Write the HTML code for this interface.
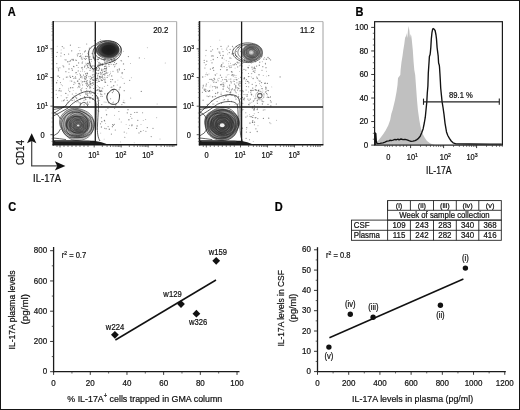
<!DOCTYPE html>
<html><head><meta charset="utf-8"><style>
html,body{margin:0;padding:0;background:#fff;overflow:hidden;width:520px;height:410px;}
svg{display:block;font-family:"Liberation Sans", sans-serif;will-change:transform;}
text{stroke:#111;stroke-width:0.22px;}
</style></head><body>
<svg width="520" height="410" viewBox="0 0 520 410">
<rect x="0" y="0" width="520" height="410" fill="#fff"/>
<g fill="#606060" fill-opacity="0.75"><circle cx="80.4" cy="98.8" r="0.65"/><circle cx="86.3" cy="58.5" r="0.62"/><circle cx="67.7" cy="97.4" r="0.44"/><circle cx="56.2" cy="94.3" r="0.49"/><circle cx="87.1" cy="73.1" r="0.65"/><circle cx="67.8" cy="61.7" r="0.70"/><circle cx="65.9" cy="71.7" r="0.58"/><circle cx="75.7" cy="78.2" r="0.66"/><circle cx="94.8" cy="92.6" r="0.70"/><circle cx="80.3" cy="104.3" r="0.62"/><circle cx="64.4" cy="54.6" r="0.59"/><circle cx="79.9" cy="47.6" r="0.47"/><circle cx="57.4" cy="75.9" r="0.51"/><circle cx="74.2" cy="100.0" r="0.59"/><circle cx="80.5" cy="75.8" r="0.68"/><circle cx="75.4" cy="59.9" r="0.49"/><circle cx="56.5" cy="56.5" r="0.52"/><circle cx="83.0" cy="57.0" r="0.41"/><circle cx="70.4" cy="45.2" r="0.61"/><circle cx="88.4" cy="54.3" r="0.53"/><circle cx="66.4" cy="97.8" r="0.64"/><circle cx="75.9" cy="95.8" r="0.47"/><circle cx="80.9" cy="89.5" r="0.60"/><circle cx="59.6" cy="77.5" r="0.60"/><circle cx="75.8" cy="97.3" r="0.54"/><circle cx="70.1" cy="80.9" r="0.46"/><circle cx="58.3" cy="68.3" r="0.52"/><circle cx="68.6" cy="54.0" r="0.62"/><circle cx="87.8" cy="67.8" r="0.46"/><circle cx="94.2" cy="80.4" r="0.43"/><circle cx="79.6" cy="83.3" r="0.54"/><circle cx="82.4" cy="54.0" r="0.47"/><circle cx="73.2" cy="59.4" r="0.64"/><circle cx="71.7" cy="50.8" r="0.65"/><circle cx="93.7" cy="57.9" r="0.68"/><circle cx="82.2" cy="63.0" r="0.65"/><circle cx="90.1" cy="84.7" r="0.59"/><circle cx="61.1" cy="95.7" r="0.46"/><circle cx="92.9" cy="99.2" r="0.65"/><circle cx="78.2" cy="53.7" r="0.62"/><circle cx="63.5" cy="100.7" r="0.62"/><circle cx="77.5" cy="55.8" r="0.61"/><circle cx="90.5" cy="83.5" r="0.65"/><circle cx="78.2" cy="67.6" r="0.49"/><circle cx="72.0" cy="59.4" r="0.60"/><circle cx="57.5" cy="97.6" r="0.56"/><circle cx="74.2" cy="77.9" r="0.50"/><circle cx="68.6" cy="90.1" r="0.50"/><circle cx="57.0" cy="67.3" r="0.45"/><circle cx="57.2" cy="52.4" r="0.55"/><circle cx="93.7" cy="84.5" r="0.51"/><circle cx="72.7" cy="76.4" r="0.53"/><circle cx="90.0" cy="65.7" r="0.66"/><circle cx="79.0" cy="86.0" r="0.60"/><circle cx="69.9" cy="76.1" r="0.60"/><circle cx="85.8" cy="99.6" r="0.70"/><circle cx="61.9" cy="101.0" r="0.47"/><circle cx="56.2" cy="90.2" r="0.55"/><circle cx="87.6" cy="53.2" r="0.43"/><circle cx="72.3" cy="93.9" r="0.52"/><circle cx="56.6" cy="82.7" r="0.69"/><circle cx="86.9" cy="75.8" r="0.43"/><circle cx="84.3" cy="58.6" r="0.63"/><circle cx="63.7" cy="66.8" r="0.66"/><circle cx="63.0" cy="65.8" r="0.55"/><circle cx="93.0" cy="79.4" r="0.64"/><circle cx="69.3" cy="61.3" r="0.53"/><circle cx="93.1" cy="71.7" r="0.51"/><circle cx="94.2" cy="75.9" r="0.55"/><circle cx="76.3" cy="98.8" r="0.46"/><circle cx="85.0" cy="79.8" r="0.49"/><circle cx="72.6" cy="97.7" r="0.49"/><circle cx="72.1" cy="100.4" r="0.70"/><circle cx="58.7" cy="70.8" r="0.50"/><circle cx="76.3" cy="102.1" r="0.47"/><circle cx="65.8" cy="93.4" r="0.68"/><circle cx="82.4" cy="88.0" r="0.44"/><circle cx="80.6" cy="103.3" r="0.69"/><circle cx="69.0" cy="68.9" r="0.66"/><circle cx="63.9" cy="48.0" r="0.59"/><circle cx="64.3" cy="99.9" r="0.53"/><circle cx="88.8" cy="51.7" r="0.46"/><circle cx="79.5" cy="73.8" r="0.43"/><circle cx="79.2" cy="84.6" r="0.43"/><circle cx="68.0" cy="102.7" r="0.50"/><circle cx="74.2" cy="82.7" r="0.52"/><circle cx="80.8" cy="56.0" r="0.68"/><circle cx="58.4" cy="69.7" r="0.56"/><circle cx="85.8" cy="93.9" r="0.70"/><circle cx="84.5" cy="51.8" r="0.62"/><circle cx="91.6" cy="93.1" r="0.44"/><circle cx="90.2" cy="76.4" r="0.57"/><circle cx="91.7" cy="47.8" r="0.45"/><circle cx="57.2" cy="46.2" r="0.41"/><circle cx="65.9" cy="59.9" r="0.68"/><circle cx="63.3" cy="79.0" r="0.50"/><circle cx="57.5" cy="80.4" r="0.46"/><circle cx="62.5" cy="85.7" r="0.43"/><circle cx="56.8" cy="63.6" r="0.60"/><circle cx="92.6" cy="77.3" r="0.54"/><circle cx="87.7" cy="84.5" r="0.40"/><circle cx="79.8" cy="56.5" r="0.61"/><circle cx="78.4" cy="47.4" r="0.48"/><circle cx="87.3" cy="102.6" r="0.63"/><circle cx="89.3" cy="48.0" r="0.55"/><circle cx="69.2" cy="64.1" r="0.56"/><circle cx="60.4" cy="82.6" r="0.54"/><circle cx="87.1" cy="63.8" r="0.60"/><circle cx="89.6" cy="92.8" r="0.70"/><circle cx="61.0" cy="91.0" r="0.64"/><circle cx="90.4" cy="56.8" r="0.42"/><circle cx="78.4" cy="83.3" r="0.55"/><circle cx="79.8" cy="50.8" r="0.47"/><circle cx="81.8" cy="82.9" r="0.43"/><circle cx="88.1" cy="93.2" r="0.46"/><circle cx="68.8" cy="88.3" r="0.47"/><circle cx="89.8" cy="98.6" r="0.69"/><circle cx="62.3" cy="46.6" r="0.62"/><circle cx="81.4" cy="57.9" r="0.66"/><circle cx="78.0" cy="101.7" r="0.61"/><circle cx="70.8" cy="60.2" r="0.49"/><circle cx="73.8" cy="84.4" r="0.52"/><circle cx="59.9" cy="67.8" r="0.53"/><circle cx="61.2" cy="84.7" r="0.49"/><circle cx="88.4" cy="67.6" r="0.53"/><circle cx="70.5" cy="77.4" r="0.63"/><circle cx="64.4" cy="59.8" r="0.42"/><circle cx="68.9" cy="72.4" r="0.48"/><circle cx="59.2" cy="90.2" r="0.54"/><circle cx="78.6" cy="63.0" r="0.60"/><circle cx="59.0" cy="90.8" r="0.59"/><circle cx="61.1" cy="53.0" r="0.62"/><circle cx="61.1" cy="49.9" r="0.43"/><circle cx="91.3" cy="61.2" r="0.45"/><circle cx="68.0" cy="95.0" r="0.49"/><circle cx="80.2" cy="56.2" r="0.48"/><circle cx="73.0" cy="98.0" r="0.63"/><circle cx="70.6" cy="87.7" r="0.70"/><circle cx="59.8" cy="88.6" r="0.60"/><circle cx="86.3" cy="94.5" r="0.41"/><circle cx="82.3" cy="67.2" r="0.49"/><circle cx="58.5" cy="76.1" r="0.64"/><circle cx="85.5" cy="56.5" r="0.68"/><circle cx="66.4" cy="77.2" r="0.58"/><circle cx="85.2" cy="98.8" r="0.50"/><circle cx="60.9" cy="56.1" r="0.51"/><circle cx="87.2" cy="83.7" r="0.59"/><circle cx="84.1" cy="104.8" r="0.66"/><circle cx="92.6" cy="95.6" r="0.50"/><circle cx="86.3" cy="68.7" r="0.46"/><circle cx="89.9" cy="78.2" r="0.40"/><circle cx="86.2" cy="82.8" r="0.44"/><circle cx="101.6" cy="90.3" r="0.66"/><circle cx="87.5" cy="73.3" r="0.59"/><circle cx="92.6" cy="83.0" r="0.70"/><circle cx="84.9" cy="65.4" r="0.42"/><circle cx="87.4" cy="95.1" r="0.51"/><circle cx="84.5" cy="78.6" r="0.64"/><circle cx="86.0" cy="83.6" r="0.60"/><circle cx="73.7" cy="78.5" r="0.42"/><circle cx="80.3" cy="95.3" r="0.52"/><circle cx="81.1" cy="90.7" r="0.59"/><circle cx="101.7" cy="77.3" r="0.61"/><circle cx="82.6" cy="84.9" r="0.54"/><circle cx="88.0" cy="67.1" r="0.46"/><circle cx="85.7" cy="79.0" r="0.69"/><circle cx="78.6" cy="86.8" r="0.54"/><circle cx="76.8" cy="65.4" r="0.62"/><circle cx="99.5" cy="68.4" r="0.56"/><circle cx="97.7" cy="104.9" r="0.42"/><circle cx="90.3" cy="90.3" r="0.47"/><circle cx="105.6" cy="79.0" r="0.42"/><circle cx="82.7" cy="61.7" r="0.46"/><circle cx="88.4" cy="104.2" r="0.46"/><circle cx="96.6" cy="67.9" r="0.52"/><circle cx="80.3" cy="74.4" r="0.50"/><circle cx="90.6" cy="78.9" r="0.51"/><circle cx="89.9" cy="86.5" r="0.65"/><circle cx="85.3" cy="81.4" r="0.41"/><circle cx="89.9" cy="80.7" r="0.43"/><circle cx="93.3" cy="82.8" r="0.64"/><circle cx="72.8" cy="87.8" r="0.56"/><circle cx="70.5" cy="60.9" r="0.53"/><circle cx="95.7" cy="92.6" r="0.48"/><circle cx="86.7" cy="56.3" r="0.56"/><circle cx="84.7" cy="71.8" r="0.47"/><circle cx="90.0" cy="70.3" r="0.66"/><circle cx="77.5" cy="81.2" r="0.65"/><circle cx="86.4" cy="64.7" r="0.50"/><circle cx="89.0" cy="64.7" r="0.41"/><circle cx="98.0" cy="97.9" r="0.67"/><circle cx="97.8" cy="74.9" r="0.49"/><circle cx="92.6" cy="80.0" r="0.60"/><circle cx="84.5" cy="76.9" r="0.66"/><circle cx="76.3" cy="60.3" r="0.64"/><circle cx="95.1" cy="79.1" r="0.66"/><circle cx="89.9" cy="97.0" r="0.55"/><circle cx="72.4" cy="70.2" r="0.65"/><circle cx="89.6" cy="87.9" r="0.54"/><circle cx="84.6" cy="97.4" r="0.48"/><circle cx="89.9" cy="63.8" r="0.54"/><circle cx="79.6" cy="94.1" r="0.50"/><circle cx="92.2" cy="53.5" r="0.63"/><circle cx="100.1" cy="91.0" r="0.65"/><circle cx="100.1" cy="76.2" r="0.44"/><circle cx="85.3" cy="65.1" r="0.45"/><circle cx="110.8" cy="79.4" r="0.52"/><circle cx="102.3" cy="72.3" r="0.54"/><circle cx="89.5" cy="56.9" r="0.69"/><circle cx="84.6" cy="96.8" r="0.68"/><circle cx="76.7" cy="98.1" r="0.69"/><circle cx="91.0" cy="66.3" r="0.62"/><circle cx="83.5" cy="75.1" r="0.60"/><circle cx="87.6" cy="74.0" r="0.48"/><circle cx="80.6" cy="77.4" r="0.51"/><circle cx="78.8" cy="62.7" r="0.40"/><circle cx="87.6" cy="95.2" r="0.65"/><circle cx="74.2" cy="82.1" r="0.48"/><circle cx="82.2" cy="67.3" r="0.42"/><circle cx="95.7" cy="74.2" r="0.49"/><circle cx="101.5" cy="70.3" r="0.50"/><circle cx="91.5" cy="78.6" r="0.62"/><circle cx="81.2" cy="90.8" r="0.40"/><circle cx="86.6" cy="91.0" r="0.47"/><circle cx="87.6" cy="65.7" r="0.67"/><circle cx="87.1" cy="82.8" r="0.66"/><circle cx="96.6" cy="68.4" r="0.59"/><circle cx="87.6" cy="56.2" r="0.57"/><circle cx="93.9" cy="65.8" r="0.47"/><circle cx="71.7" cy="81.1" r="0.66"/><circle cx="98.0" cy="59.1" r="0.63"/><circle cx="78.2" cy="70.9" r="0.55"/><circle cx="77.8" cy="87.7" r="0.45"/><circle cx="80.7" cy="71.2" r="0.46"/><circle cx="93.2" cy="70.7" r="0.51"/><circle cx="91.9" cy="67.4" r="0.50"/><circle cx="77.1" cy="54.5" r="0.42"/><circle cx="104.8" cy="77.2" r="0.52"/><circle cx="90.2" cy="81.5" r="0.53"/><circle cx="89.4" cy="82.7" r="0.49"/><circle cx="105.2" cy="66.4" r="0.52"/><circle cx="74.0" cy="66.8" r="0.50"/><circle cx="76.0" cy="93.2" r="0.51"/><circle cx="95.4" cy="67.6" r="0.59"/><circle cx="75.5" cy="76.7" r="0.55"/><circle cx="100.5" cy="39.7" r="0.46"/><circle cx="92.7" cy="65.9" r="0.64"/><circle cx="97.4" cy="65.8" r="0.55"/><circle cx="85.4" cy="59.4" r="0.54"/><circle cx="79.2" cy="102.8" r="0.61"/><circle cx="95.4" cy="76.0" r="0.63"/><circle cx="80.2" cy="53.6" r="0.65"/><circle cx="84.5" cy="81.5" r="0.64"/><circle cx="87.2" cy="80.6" r="0.60"/><circle cx="77.9" cy="81.0" r="0.62"/><circle cx="87.7" cy="101.4" r="0.45"/><circle cx="104.8" cy="79.9" r="0.61"/><circle cx="81.1" cy="81.0" r="0.48"/><circle cx="82.5" cy="70.9" r="0.48"/><circle cx="87.5" cy="66.4" r="0.44"/><circle cx="93.5" cy="80.4" r="0.52"/><circle cx="90.3" cy="79.3" r="0.41"/><circle cx="81.5" cy="67.8" r="0.60"/><circle cx="85.9" cy="73.8" r="0.62"/><circle cx="90.1" cy="81.9" r="0.63"/><circle cx="75.7" cy="83.0" r="0.44"/><circle cx="75.9" cy="72.8" r="0.59"/><circle cx="85.4" cy="50.9" r="0.65"/><circle cx="88.8" cy="84.3" r="0.41"/><circle cx="86.6" cy="75.6" r="0.46"/><circle cx="84.6" cy="67.4" r="0.48"/><circle cx="85.6" cy="73.7" r="0.54"/><circle cx="88.8" cy="63.9" r="0.45"/><circle cx="90.1" cy="84.1" r="0.56"/><circle cx="86.7" cy="75.4" r="0.50"/><circle cx="93.0" cy="57.0" r="0.60"/><circle cx="92.1" cy="85.6" r="0.56"/><circle cx="90.6" cy="87.7" r="0.61"/><circle cx="82.1" cy="78.1" r="0.47"/><circle cx="93.7" cy="88.5" r="0.61"/><circle cx="89.9" cy="59.3" r="0.62"/><circle cx="92.8" cy="99.5" r="0.62"/><circle cx="97.1" cy="85.5" r="0.42"/><circle cx="74.0" cy="96.1" r="0.68"/><circle cx="86.7" cy="44.0" r="0.57"/><circle cx="91.4" cy="59.6" r="0.48"/><circle cx="76.3" cy="72.5" r="0.53"/><circle cx="99.5" cy="76.4" r="0.56"/><circle cx="102.3" cy="80.4" r="0.56"/><circle cx="85.8" cy="63.1" r="0.47"/><circle cx="81.7" cy="88.4" r="0.48"/><circle cx="91.6" cy="83.7" r="0.51"/><circle cx="97.0" cy="70.4" r="0.63"/><circle cx="87.5" cy="93.0" r="0.53"/><circle cx="93.3" cy="98.1" r="0.41"/><circle cx="91.6" cy="77.4" r="0.54"/><circle cx="91.3" cy="67.0" r="0.46"/><circle cx="73.2" cy="90.7" r="0.40"/><circle cx="87.5" cy="86.6" r="0.69"/><circle cx="72.7" cy="76.5" r="0.49"/><circle cx="82.6" cy="69.0" r="0.56"/><circle cx="67.7" cy="77.0" r="0.51"/><circle cx="96.1" cy="87.7" r="0.42"/><circle cx="82.6" cy="81.8" r="0.67"/><circle cx="94.8" cy="40.6" r="0.68"/><circle cx="86.9" cy="90.1" r="0.46"/><circle cx="98.2" cy="86.7" r="0.53"/><circle cx="90.7" cy="93.8" r="0.51"/><circle cx="83.1" cy="81.4" r="0.45"/><circle cx="86.6" cy="81.3" r="0.60"/><circle cx="89.8" cy="102.1" r="0.63"/><circle cx="87.7" cy="104.0" r="0.63"/><circle cx="79.3" cy="79.2" r="0.60"/><circle cx="86.2" cy="93.8" r="0.41"/><circle cx="97.4" cy="59.4" r="0.47"/><circle cx="79.8" cy="87.1" r="0.55"/><circle cx="82.1" cy="59.2" r="0.61"/><circle cx="97.3" cy="89.4" r="0.52"/><circle cx="92.4" cy="74.9" r="0.53"/><circle cx="97.3" cy="78.4" r="0.65"/><circle cx="97.9" cy="68.3" r="0.41"/><circle cx="80.3" cy="85.1" r="0.48"/><circle cx="81.7" cy="92.1" r="0.49"/><circle cx="90.3" cy="68.2" r="0.70"/><circle cx="88.7" cy="76.7" r="0.47"/><circle cx="96.2" cy="72.5" r="0.41"/><circle cx="84.0" cy="100.2" r="0.52"/><circle cx="88.6" cy="85.3" r="0.59"/><circle cx="101.8" cy="80.1" r="0.45"/><circle cx="79.2" cy="83.8" r="0.65"/><circle cx="92.1" cy="69.6" r="0.46"/><circle cx="73.2" cy="60.4" r="0.61"/><circle cx="94.0" cy="70.6" r="0.45"/><circle cx="86.7" cy="85.2" r="0.66"/><circle cx="93.6" cy="77.0" r="0.46"/><circle cx="92.5" cy="68.6" r="0.62"/><circle cx="84.7" cy="66.6" r="0.65"/><circle cx="98.2" cy="81.6" r="0.48"/><circle cx="81.3" cy="76.7" r="0.43"/><circle cx="86.0" cy="92.5" r="0.58"/><circle cx="73.6" cy="66.4" r="0.55"/><circle cx="96.6" cy="80.3" r="0.54"/><circle cx="85.9" cy="76.5" r="0.63"/><circle cx="98.9" cy="89.4" r="0.54"/><circle cx="94.0" cy="74.4" r="0.55"/><circle cx="93.1" cy="92.3" r="0.55"/><circle cx="69.8" cy="91.6" r="0.54"/><circle cx="86.3" cy="88.5" r="0.52"/><circle cx="94.1" cy="76.9" r="0.45"/><circle cx="72.8" cy="87.5" r="0.49"/><circle cx="81.3" cy="77.0" r="0.48"/><circle cx="82.6" cy="76.9" r="0.47"/><circle cx="67.2" cy="100.3" r="0.63"/><circle cx="90.3" cy="98.7" r="0.43"/><circle cx="105.8" cy="82.3" r="0.46"/><circle cx="71.8" cy="68.6" r="0.56"/><circle cx="77.1" cy="74.5" r="0.49"/><circle cx="88.7" cy="52.0" r="0.47"/><circle cx="91.1" cy="59.3" r="0.51"/><circle cx="115.2" cy="81.9" r="0.55"/><circle cx="100.8" cy="64.5" r="0.60"/><circle cx="104.3" cy="60.5" r="0.69"/><circle cx="102.3" cy="64.1" r="0.66"/><circle cx="109.5" cy="74.8" r="0.53"/><circle cx="113.0" cy="71.2" r="0.54"/><circle cx="97.0" cy="73.6" r="0.52"/><circle cx="117.9" cy="70.0" r="0.47"/><circle cx="107.7" cy="93.5" r="0.69"/><circle cx="107.8" cy="99.7" r="0.42"/><circle cx="122.6" cy="72.6" r="0.46"/><circle cx="117.3" cy="69.9" r="0.60"/><circle cx="100.0" cy="78.6" r="0.58"/><circle cx="113.5" cy="102.0" r="0.48"/><circle cx="100.2" cy="91.5" r="0.68"/><circle cx="109.8" cy="64.2" r="0.52"/><circle cx="124.2" cy="90.7" r="0.58"/><circle cx="99.7" cy="100.6" r="0.43"/><circle cx="99.0" cy="62.4" r="0.67"/><circle cx="105.6" cy="102.1" r="0.43"/><circle cx="97.0" cy="101.2" r="0.52"/><circle cx="113.7" cy="61.2" r="0.67"/><circle cx="112.5" cy="79.6" r="0.68"/><circle cx="112.4" cy="92.6" r="0.67"/><circle cx="115.7" cy="104.9" r="0.65"/><circle cx="100.5" cy="96.2" r="0.47"/><circle cx="107.9" cy="94.8" r="0.41"/><circle cx="121.9" cy="104.6" r="0.54"/><circle cx="103.7" cy="79.3" r="0.42"/><circle cx="123.3" cy="102.4" r="0.69"/><circle cx="106.8" cy="102.2" r="0.40"/><circle cx="107.8" cy="75.6" r="0.50"/><circle cx="117.9" cy="80.1" r="0.46"/><circle cx="109.0" cy="76.1" r="0.40"/><circle cx="108.6" cy="64.6" r="0.55"/><circle cx="97.8" cy="93.4" r="0.42"/><circle cx="112.4" cy="89.6" r="0.67"/><circle cx="119.3" cy="68.8" r="0.61"/><circle cx="102.8" cy="71.1" r="0.51"/><circle cx="104.8" cy="93.8" r="0.65"/><circle cx="106.9" cy="73.2" r="0.64"/><circle cx="114.5" cy="66.8" r="0.50"/><circle cx="99.1" cy="90.8" r="0.65"/><circle cx="117.9" cy="71.9" r="0.68"/><circle cx="114.4" cy="59.6" r="0.59"/><circle cx="107.7" cy="85.2" r="0.51"/><circle cx="103.3" cy="74.4" r="0.67"/><circle cx="113.7" cy="85.7" r="0.68"/><circle cx="100.5" cy="91.2" r="0.50"/><circle cx="98.3" cy="103.6" r="0.43"/><circle cx="101.9" cy="69.9" r="0.66"/><circle cx="101.8" cy="104.6" r="0.60"/><circle cx="104.3" cy="86.4" r="0.47"/><circle cx="124.7" cy="102.7" r="0.57"/><circle cx="97.2" cy="82.5" r="0.49"/><circle cx="113.4" cy="91.0" r="0.68"/><circle cx="105.7" cy="73.4" r="0.50"/><circle cx="96.1" cy="59.7" r="0.46"/><circle cx="112.0" cy="61.6" r="0.41"/><circle cx="101.9" cy="73.7" r="0.50"/><circle cx="98.0" cy="59.5" r="0.70"/><circle cx="122.9" cy="78.5" r="0.47"/><circle cx="101.9" cy="91.3" r="0.54"/><circle cx="96.3" cy="69.5" r="0.69"/><circle cx="123.9" cy="100.2" r="0.40"/><circle cx="114.4" cy="62.4" r="0.49"/><circle cx="105.2" cy="59.3" r="0.65"/><circle cx="102.4" cy="59.2" r="0.43"/><circle cx="99.7" cy="87.8" r="0.68"/><circle cx="98.9" cy="65.3" r="0.65"/><circle cx="122.2" cy="73.8" r="0.44"/><circle cx="105.7" cy="62.1" r="0.58"/><circle cx="119.1" cy="89.8" r="0.57"/><circle cx="111.9" cy="87.0" r="0.61"/><circle cx="98.9" cy="70.2" r="0.49"/><circle cx="112.9" cy="102.8" r="0.52"/><circle cx="119.7" cy="88.1" r="0.47"/><circle cx="111.0" cy="58.7" r="0.49"/><circle cx="121.8" cy="61.1" r="0.45"/><circle cx="99.7" cy="90.6" r="0.67"/><circle cx="119.6" cy="95.0" r="0.67"/><circle cx="109.1" cy="66.3" r="0.51"/><circle cx="97.0" cy="98.0" r="0.61"/><circle cx="124.4" cy="69.5" r="0.55"/><circle cx="121.1" cy="76.9" r="0.48"/><circle cx="105.0" cy="81.7" r="0.50"/><circle cx="96.2" cy="78.8" r="0.69"/><circle cx="101.8" cy="91.5" r="0.50"/><circle cx="110.6" cy="98.8" r="0.57"/><circle cx="122.0" cy="72.9" r="0.68"/><circle cx="104.1" cy="102.1" r="0.49"/><circle cx="110.6" cy="62.5" r="0.64"/><circle cx="97.3" cy="104.5" r="0.43"/><circle cx="112.8" cy="60.6" r="0.62"/><circle cx="110.8" cy="81.7" r="0.64"/><circle cx="108.6" cy="102.7" r="0.65"/><circle cx="123.5" cy="63.9" r="0.69"/><circle cx="100.4" cy="77.2" r="0.61"/><circle cx="120.2" cy="87.3" r="0.69"/><circle cx="117.2" cy="85.1" r="0.48"/><circle cx="102.1" cy="96.4" r="0.56"/><circle cx="96.4" cy="90.8" r="0.46"/><circle cx="101.6" cy="80.1" r="0.43"/><circle cx="124.3" cy="83.3" r="0.53"/><circle cx="97.7" cy="78.2" r="0.62"/><circle cx="115.1" cy="60.7" r="0.63"/><circle cx="103.3" cy="58.9" r="0.41"/><circle cx="111.7" cy="75.9" r="0.68"/><circle cx="110.6" cy="71.9" r="0.47"/><circle cx="115.0" cy="66.1" r="0.49"/><circle cx="101.3" cy="80.0" r="0.65"/><circle cx="107.2" cy="77.3" r="0.67"/><circle cx="113.6" cy="64.6" r="0.62"/><circle cx="104.9" cy="69.1" r="0.50"/><circle cx="111.1" cy="87.3" r="0.54"/><circle cx="88.3" cy="63.3" r="0.65"/><circle cx="104.0" cy="79.1" r="0.51"/><circle cx="104.4" cy="71.4" r="0.64"/><circle cx="102.7" cy="77.9" r="0.63"/><circle cx="99.5" cy="81.2" r="0.54"/><circle cx="86.4" cy="77.7" r="0.67"/><circle cx="93.8" cy="80.6" r="0.52"/><circle cx="98.6" cy="64.0" r="0.62"/><circle cx="102.2" cy="63.8" r="0.59"/><circle cx="94.5" cy="57.9" r="0.50"/><circle cx="99.8" cy="76.5" r="0.56"/><circle cx="106.1" cy="70.7" r="0.58"/><circle cx="106.3" cy="72.2" r="0.56"/><circle cx="99.4" cy="77.2" r="0.43"/><circle cx="106.4" cy="68.9" r="0.70"/><circle cx="98.5" cy="70.6" r="0.69"/><circle cx="100.5" cy="63.9" r="0.41"/><circle cx="106.2" cy="68.4" r="0.68"/><circle cx="102.8" cy="64.6" r="0.56"/><circle cx="102.2" cy="75.5" r="0.44"/><circle cx="97.5" cy="90.2" r="0.65"/><circle cx="102.2" cy="88.0" r="0.53"/><circle cx="105.8" cy="66.0" r="0.61"/><circle cx="97.7" cy="75.9" r="0.65"/><circle cx="100.4" cy="72.4" r="0.56"/><circle cx="98.3" cy="55.7" r="0.41"/><circle cx="98.6" cy="52.0" r="0.65"/><circle cx="102.2" cy="65.5" r="0.61"/><circle cx="95.7" cy="70.0" r="0.67"/><circle cx="101.6" cy="59.1" r="0.48"/><circle cx="89.5" cy="62.4" r="0.64"/><circle cx="87.7" cy="63.3" r="0.66"/><circle cx="109.5" cy="62.5" r="0.51"/><circle cx="103.9" cy="59.7" r="0.52"/><circle cx="101.8" cy="69.1" r="0.50"/><circle cx="99.6" cy="77.1" r="0.40"/><circle cx="110.5" cy="73.8" r="0.47"/><circle cx="100.7" cy="63.2" r="0.50"/><circle cx="103.5" cy="69.8" r="0.43"/><circle cx="105.0" cy="71.6" r="0.63"/><circle cx="110.4" cy="54.2" r="0.53"/><circle cx="98.2" cy="79.9" r="0.57"/><circle cx="97.9" cy="64.9" r="0.49"/><circle cx="98.4" cy="59.6" r="0.51"/><circle cx="100.7" cy="94.0" r="0.63"/><circle cx="106.9" cy="62.0" r="0.54"/><circle cx="94.8" cy="68.4" r="0.58"/><circle cx="106.0" cy="64.6" r="0.53"/><circle cx="95.9" cy="80.0" r="0.57"/><circle cx="105.2" cy="68.6" r="0.67"/><circle cx="93.3" cy="58.1" r="0.48"/><circle cx="95.8" cy="51.9" r="0.56"/><circle cx="104.5" cy="66.3" r="0.61"/><circle cx="102.9" cy="88.8" r="0.43"/><circle cx="107.0" cy="61.6" r="0.69"/><circle cx="105.2" cy="82.4" r="0.55"/><circle cx="95.5" cy="63.4" r="0.47"/><circle cx="99.3" cy="57.6" r="0.63"/><circle cx="108.8" cy="50.4" r="0.64"/><circle cx="93.4" cy="69.6" r="0.59"/><circle cx="98.6" cy="73.5" r="0.67"/><circle cx="101.6" cy="70.1" r="0.43"/><circle cx="106.8" cy="52.7" r="0.56"/><circle cx="100.0" cy="65.6" r="0.62"/><circle cx="100.8" cy="74.0" r="0.68"/><circle cx="94.5" cy="66.2" r="0.59"/><circle cx="104.8" cy="75.1" r="0.58"/><circle cx="95.9" cy="90.4" r="0.52"/><circle cx="113.9" cy="58.8" r="0.57"/><circle cx="101.8" cy="94.6" r="0.57"/><circle cx="104.7" cy="74.0" r="0.67"/><circle cx="98.8" cy="67.1" r="0.65"/><circle cx="98.7" cy="67.0" r="0.62"/><circle cx="104.5" cy="68.4" r="0.68"/><circle cx="97.4" cy="61.2" r="0.42"/><circle cx="99.7" cy="64.0" r="0.63"/><circle cx="98.9" cy="81.4" r="0.54"/><circle cx="102.2" cy="76.5" r="0.63"/><circle cx="102.1" cy="72.5" r="0.49"/><circle cx="99.2" cy="69.2" r="0.54"/><circle cx="104.6" cy="62.2" r="0.65"/><circle cx="108.0" cy="72.3" r="0.41"/><circle cx="95.5" cy="67.6" r="0.49"/><circle cx="95.9" cy="73.4" r="0.55"/><circle cx="95.7" cy="82.3" r="0.66"/><circle cx="106.5" cy="50.9" r="0.48"/><circle cx="106.9" cy="52.0" r="0.65"/><circle cx="111.7" cy="64.2" r="0.47"/><circle cx="116.5" cy="54.6" r="0.49"/><circle cx="106.7" cy="67.1" r="0.57"/><circle cx="114.2" cy="60.0" r="0.60"/><circle cx="119.4" cy="69.8" r="0.66"/><circle cx="121.1" cy="60.6" r="0.66"/><circle cx="114.5" cy="62.5" r="0.48"/><circle cx="107.7" cy="55.8" r="0.62"/><circle cx="112.4" cy="56.2" r="0.59"/><circle cx="111.6" cy="60.4" r="0.52"/><circle cx="128.4" cy="56.6" r="0.63"/><circle cx="111.1" cy="59.3" r="0.67"/><circle cx="115.1" cy="64.2" r="0.54"/><circle cx="108.6" cy="56.7" r="0.67"/><circle cx="100.5" cy="56.3" r="0.44"/><circle cx="115.8" cy="60.2" r="0.45"/><circle cx="104.9" cy="58.5" r="0.63"/><circle cx="112.2" cy="62.0" r="0.49"/><circle cx="107.8" cy="59.0" r="0.58"/><circle cx="99.3" cy="55.4" r="0.55"/><circle cx="123.3" cy="51.2" r="0.44"/><circle cx="109.6" cy="60.9" r="0.63"/><circle cx="109.4" cy="56.8" r="0.62"/><circle cx="111.6" cy="60.0" r="0.44"/><circle cx="111.4" cy="52.5" r="0.48"/><circle cx="111.0" cy="56.6" r="0.64"/><circle cx="108.2" cy="60.9" r="0.67"/><circle cx="116.5" cy="63.6" r="0.66"/><circle cx="151.2" cy="136.6" r="0.55"/><circle cx="118.9" cy="111.4" r="0.51"/><circle cx="142.6" cy="112.7" r="0.53"/><circle cx="120.6" cy="141.9" r="0.45"/><circle cx="131.8" cy="125.7" r="0.55"/><circle cx="156.7" cy="117.7" r="0.47"/><circle cx="160.0" cy="139.0" r="0.45"/><circle cx="119.3" cy="119.1" r="0.51"/><circle cx="104.1" cy="139.1" r="0.42"/><circle cx="107.9" cy="108.3" r="0.54"/><circle cx="153.0" cy="128.3" r="0.61"/><circle cx="139.0" cy="132.9" r="0.60"/><circle cx="98.7" cy="111.1" r="0.69"/><circle cx="128.0" cy="109.7" r="0.67"/><circle cx="134.7" cy="112.5" r="0.59"/><circle cx="127.3" cy="112.8" r="0.67"/><circle cx="124.2" cy="132.1" r="0.53"/><circle cx="137.0" cy="112.4" r="0.64"/><circle cx="140.9" cy="131.8" r="0.49"/><circle cx="131.8" cy="118.3" r="0.56"/><circle cx="132.0" cy="125.0" r="0.69"/><circle cx="140.8" cy="131.3" r="0.58"/><circle cx="145.9" cy="131.3" r="0.55"/><circle cx="147.3" cy="127.6" r="0.64"/><circle cx="121.2" cy="122.1" r="0.49"/><circle cx="137.8" cy="120.3" r="0.65"/><circle cx="143.2" cy="120.5" r="0.41"/><circle cx="126.7" cy="133.1" r="0.47"/><circle cx="141.0" cy="124.5" r="0.45"/><circle cx="143.3" cy="130.4" r="0.48"/><circle cx="128.9" cy="119.8" r="0.68"/><circle cx="126.1" cy="124.4" r="0.41"/><circle cx="145.7" cy="119.6" r="0.49"/><circle cx="124.8" cy="137.2" r="0.57"/><circle cx="130.9" cy="114.4" r="0.61"/><circle cx="137.1" cy="126.0" r="0.63"/><circle cx="128.7" cy="128.5" r="0.51"/><circle cx="130.6" cy="116.5" r="0.47"/><circle cx="136.6" cy="128.4" r="0.66"/><circle cx="129.3" cy="125.3" r="0.44"/><circle cx="134.2" cy="142.8" r="0.42"/><circle cx="100.7" cy="133.1" r="0.47"/><circle cx="104.7" cy="121.0" r="0.55"/><circle cx="109.3" cy="129.2" r="0.68"/><circle cx="112.6" cy="124.6" r="0.62"/><circle cx="101.4" cy="117.7" r="0.57"/><circle cx="108.1" cy="126.6" r="0.56"/><circle cx="113.4" cy="125.3" r="0.61"/><circle cx="111.4" cy="134.1" r="0.59"/><circle cx="106.0" cy="110.1" r="0.50"/><circle cx="97.9" cy="110.5" r="0.43"/><circle cx="114.5" cy="115.2" r="0.46"/><circle cx="112.4" cy="126.7" r="0.63"/><circle cx="115.3" cy="130.0" r="0.59"/><circle cx="104.4" cy="120.4" r="0.64"/><circle cx="105.5" cy="123.4" r="0.41"/><circle cx="101.8" cy="121.7" r="0.67"/><circle cx="114.7" cy="108.4" r="0.51"/><circle cx="106.6" cy="114.7" r="0.68"/><circle cx="106.1" cy="128.7" r="0.58"/><circle cx="104.7" cy="128.2" r="0.56"/><circle cx="101.4" cy="127.0" r="0.65"/><circle cx="100.5" cy="123.8" r="0.59"/><circle cx="114.3" cy="124.3" r="0.60"/><circle cx="165.2" cy="63.0" r="0.45"/><circle cx="129.7" cy="80.3" r="0.58"/><circle cx="130.7" cy="98.0" r="0.51"/><circle cx="130.5" cy="63.5" r="0.42"/><circle cx="147.3" cy="47.7" r="0.44"/><circle cx="139.3" cy="57.9" r="0.54"/><circle cx="157.1" cy="104.1" r="0.48"/><circle cx="141.3" cy="91.4" r="0.63"/><circle cx="131.3" cy="77.7" r="0.44"/><circle cx="144.5" cy="58.7" r="0.40"/></g>
<path d="M93.87 124.20 L93.84 126.23 L93.54 128.27 L92.94 130.26 L92.02 132.16 L90.78 133.90 L89.27 135.46 L87.53 136.80 L85.63 137.92 L83.61 138.83 L81.48 139.54 L79.27 140.01 L77.00 140.20 L74.72 140.06 L72.51 139.58 L70.43 138.75 L68.55 137.62 L66.90 136.28 L65.45 134.80 L64.18 133.23 L63.06 131.59 L62.07 129.87 L61.25 128.07 L60.64 126.18 L60.30 124.20 L60.25 122.18 L60.50 120.14 L61.06 118.14 L61.90 116.20 L63.02 114.36 L64.42 112.66 L66.10 111.16 L68.03 109.95 L70.17 109.07 L72.44 108.57 L74.74 108.44 L77.00 108.61 L79.18 109.03 L81.26 109.62 L83.25 110.35 L85.17 111.22 L86.99 112.25 L88.69 113.48 L90.20 114.91 L91.47 116.54 L92.47 118.32 L93.19 120.22 L93.66 122.19 Z" fill="#bababa"/>
<path d="M88.91 124.70 L88.84 126.06 L88.64 127.42 L88.26 128.77 L87.66 130.06 L86.82 131.23 L85.78 132.26 L84.58 133.13 L83.28 133.85 L81.92 134.44 L80.50 134.92 L79.02 135.23 L77.50 135.34 L75.99 135.18 L74.55 134.75 L73.24 134.09 L72.08 133.27 L71.04 132.39 L70.06 131.49 L69.07 130.61 L68.05 129.68 L67.04 128.66 L66.14 127.48 L65.47 126.15 L65.12 124.70 L65.15 123.22 L65.52 121.77 L66.17 120.42 L67.03 119.18 L68.03 118.07 L69.16 117.09 L70.41 116.26 L71.76 115.63 L73.20 115.21 L74.66 115.01 L76.10 114.98 L77.50 115.06 L78.87 115.17 L80.26 115.29 L81.69 115.46 L83.16 115.74 L84.62 116.23 L85.97 116.97 L87.09 117.98 L87.93 119.20 L88.48 120.55 L88.77 121.94 L88.90 123.33 Z" fill="#7c7c7c"/>
<path d="M93.84 124.20 L93.75 126.20 L93.49 128.21 L93.00 130.22 L92.24 132.19 L91.16 134.07 L89.75 135.78 L88.04 137.26 L86.08 138.48 L83.95 139.44 L81.70 140.12 L79.37 140.53 L77.00 140.62 L74.65 140.38 L72.40 139.78 L70.32 138.84 L68.47 137.61 L66.88 136.18 L65.49 134.65 L64.26 133.07 L63.13 131.47 L62.05 129.82 L61.07 128.08 L60.25 126.20 L59.71 124.20 L59.53 122.11 L59.74 120.00 L60.35 117.94 L61.32 115.98 L62.59 114.16 L64.12 112.51 L65.90 111.06 L67.89 109.87 L70.06 108.99 L72.36 108.46 L74.69 108.28 L77.00 108.41 L79.23 108.80 L81.37 109.38 L83.43 110.10 L85.42 110.96 L87.32 111.99 L89.08 113.23 L90.63 114.70 L91.89 116.39 L92.82 118.25 L93.42 120.20 L93.74 122.20 Z" fill="none" stroke="#262626" stroke-width="0.6"/>
<path d="M94.51 124.30 L94.35 126.36 L93.82 128.37 L92.99 130.28 L91.89 132.06 L90.52 133.67 L88.89 135.03 L87.04 136.09 L85.04 136.83 L83.00 137.27 L80.98 137.50 L79.01 137.63 L77.08 137.74 L75.12 137.82 L73.09 137.81 L71.01 137.61 L68.95 137.08 L67.04 136.18 L65.39 134.91 L64.06 133.38 L63.02 131.67 L62.23 129.89 L61.60 128.07 L61.11 126.21 L60.78 124.30 L60.70 122.34 L60.95 120.38 L61.57 118.47 L62.56 116.69 L63.85 115.08 L65.35 113.65 L67.02 112.39 L68.82 111.30 L70.75 110.42 L72.80 109.81 L74.94 109.54 L77.08 109.68 L79.13 110.19 L81.01 110.98 L82.73 111.92 L84.33 112.89 L85.92 113.84 L87.55 114.79 L89.23 115.83 L90.89 117.06 L92.37 118.55 L93.52 120.30 L94.25 122.25 Z" fill="none" stroke="#262626" stroke-width="0.6"/>
<path d="M91.95 124.40 L92.00 126.17 L91.82 127.97 L91.36 129.74 L90.59 131.44 L89.49 132.99 L88.10 134.33 L86.49 135.44 L84.73 136.30 L82.88 136.94 L80.99 137.37 L79.08 137.61 L77.16 137.65 L75.26 137.48 L73.41 137.10 L71.64 136.51 L69.96 135.73 L68.38 134.79 L66.90 133.71 L65.53 132.50 L64.28 131.15 L63.21 129.65 L62.38 128.00 L61.86 126.23 L61.69 124.40 L61.89 122.57 L62.41 120.81 L63.20 119.15 L64.20 117.61 L65.36 116.18 L66.66 114.87 L68.11 113.69 L69.71 112.69 L71.45 111.89 L73.30 111.33 L75.22 111.02 L77.16 110.96 L79.09 111.12 L80.97 111.48 L82.80 112.03 L84.55 112.78 L86.18 113.72 L87.65 114.87 L88.91 116.21 L89.94 117.70 L90.73 119.29 L91.32 120.95 L91.72 122.66 Z" fill="none" stroke="#262626" stroke-width="0.6"/>
<path d="M91.71 124.50 L91.85 126.25 L91.56 127.98 L90.85 129.62 L89.82 131.10 L88.56 132.39 L87.16 133.51 L85.66 134.47 L84.09 135.27 L82.45 135.91 L80.74 136.35 L78.99 136.56 L77.24 136.54 L75.53 136.32 L73.86 135.94 L72.25 135.43 L70.68 134.82 L69.15 134.07 L67.71 133.15 L66.42 132.04 L65.35 130.73 L64.57 129.27 L64.08 127.70 L63.83 126.10 L63.77 124.50 L63.85 122.90 L64.04 121.29 L64.38 119.66 L64.94 118.05 L65.78 116.52 L66.93 115.14 L68.37 114.00 L70.02 113.15 L71.80 112.58 L73.63 112.27 L75.45 112.17 L77.24 112.25 L78.98 112.51 L80.65 112.96 L82.21 113.60 L83.66 114.41 L84.96 115.36 L86.15 116.41 L87.27 117.51 L88.35 118.68 L89.40 119.93 L90.38 121.30 L91.19 122.83 Z" fill="none" stroke="#262626" stroke-width="0.6"/>
<path d="M89.50 124.60 L89.33 126.04 L88.97 127.43 L88.45 128.79 L87.80 130.09 L87.02 131.36 L86.06 132.54 L84.92 133.60 L83.60 134.48 L82.13 135.15 L80.57 135.62 L78.96 135.92 L77.32 136.07 L75.65 136.10 L73.96 135.98 L72.27 135.66 L70.66 135.08 L69.20 134.21 L68.01 133.06 L67.13 131.70 L66.56 130.24 L66.25 128.76 L66.10 127.33 L66.03 125.95 L66.01 124.60 L66.05 123.25 L66.19 121.89 L66.50 120.53 L67.01 119.19 L67.72 117.91 L68.62 116.70 L69.69 115.57 L70.91 114.52 L72.30 113.60 L73.86 112.87 L75.55 112.39 L77.32 112.26 L79.08 112.49 L80.73 113.06 L82.21 113.88 L83.51 114.87 L84.66 115.91 L85.72 116.97 L86.71 118.05 L87.64 119.19 L88.44 120.42 L89.06 121.74 L89.42 123.15 Z" fill="none" stroke="#262626" stroke-width="0.6"/>
<path d="M87.81 124.70 L87.60 125.92 L87.32 127.11 L86.97 128.30 L86.52 129.48 L85.95 130.65 L85.20 131.78 L84.27 132.83 L83.15 133.74 L81.86 134.48 L80.45 135.03 L78.95 135.37 L77.40 135.50 L75.85 135.42 L74.33 135.12 L72.88 134.60 L71.57 133.88 L70.41 132.97 L69.43 131.93 L68.64 130.80 L68.01 129.62 L67.51 128.42 L67.13 127.20 L66.87 125.96 L66.75 124.70 L66.78 123.43 L67.00 122.17 L67.42 120.95 L68.02 119.78 L68.78 118.69 L69.67 117.68 L70.68 116.75 L71.81 115.91 L73.06 115.18 L74.42 114.59 L75.88 114.18 L77.40 114.00 L78.94 114.04 L80.46 114.32 L81.91 114.82 L83.25 115.49 L84.47 116.33 L85.54 117.31 L86.43 118.41 L87.12 119.60 L87.59 120.87 L87.84 122.16 L87.90 123.44 Z" fill="none" stroke="#262626" stroke-width="0.6"/>
<path d="M87.75 124.80 L87.93 126.05 L87.87 127.33 L87.52 128.58 L86.88 129.73 L85.98 130.73 L84.90 131.54 L83.71 132.18 L82.47 132.65 L81.22 132.99 L79.96 133.20 L78.71 133.28 L77.48 133.22 L76.29 133.03 L75.14 132.72 L74.04 132.34 L72.96 131.91 L71.87 131.43 L70.77 130.90 L69.66 130.25 L68.62 129.45 L67.72 128.47 L67.07 127.33 L66.72 126.09 L66.68 124.80 L66.91 123.54 L67.36 122.34 L67.96 121.22 L68.67 120.18 L69.48 119.23 L70.40 118.37 L71.42 117.63 L72.55 117.05 L73.76 116.64 L75.00 116.39 L76.24 116.27 L77.48 116.24 L78.71 116.30 L79.94 116.46 L81.16 116.73 L82.33 117.17 L83.42 117.77 L84.38 118.53 L85.20 119.42 L85.88 120.40 L86.46 121.42 L86.97 122.49 L87.41 123.61 Z" fill="none" stroke="#262626" stroke-width="0.6"/>
<path d="M86.17 124.90 L86.16 125.93 L86.02 126.96 L85.75 127.98 L85.32 128.97 L84.72 129.89 L83.94 130.69 L83.01 131.35 L81.98 131.85 L80.90 132.22 L79.80 132.48 L78.68 132.66 L77.56 132.78 L76.41 132.80 L75.26 132.70 L74.12 132.43 L73.07 131.97 L72.14 131.32 L71.37 130.52 L70.76 129.64 L70.29 128.71 L69.91 127.78 L69.61 126.83 L69.38 125.88 L69.25 124.90 L69.24 123.91 L69.38 122.91 L69.67 121.93 L70.10 120.99 L70.64 120.08 L71.30 119.21 L72.06 118.40 L72.96 117.66 L73.98 117.06 L75.12 116.65 L76.34 116.47 L77.56 116.54 L78.73 116.84 L79.81 117.29 L80.78 117.84 L81.68 118.42 L82.53 119.02 L83.34 119.66 L84.10 120.34 L84.79 121.11 L85.36 121.96 L85.79 122.90 L86.05 123.88 Z" fill="none" stroke="#262626" stroke-width="0.6"/>
<path d="M85.02 125.00 L85.08 125.89 L84.96 126.78 L84.70 127.66 L84.31 128.50 L83.80 129.29 L83.17 130.03 L82.43 130.67 L81.57 131.18 L80.62 131.54 L79.62 131.72 L78.62 131.74 L77.64 131.64 L76.71 131.45 L75.81 131.22 L74.92 130.96 L74.05 130.65 L73.19 130.27 L72.38 129.78 L71.67 129.16 L71.11 128.42 L70.70 127.61 L70.45 126.75 L70.33 125.87 L70.31 125.00 L70.37 124.13 L70.52 123.27 L70.78 122.42 L71.16 121.60 L71.68 120.85 L72.33 120.18 L73.07 119.59 L73.88 119.09 L74.75 118.66 L75.66 118.31 L76.63 118.05 L77.64 117.91 L78.66 117.95 L79.65 118.17 L80.57 118.58 L81.37 119.14 L82.05 119.78 L82.62 120.47 L83.14 121.17 L83.62 121.87 L84.07 122.58 L84.49 123.33 L84.82 124.14 Z" fill="none" stroke="#262626" stroke-width="0.6"/>
<path d="M83.52 125.10 L83.58 125.80 L83.59 126.53 L83.51 127.28 L83.29 128.02 L82.91 128.72 L82.37 129.33 L81.72 129.83 L80.99 130.24 L80.20 130.54 L79.39 130.75 L78.56 130.86 L77.72 130.86 L76.90 130.73 L76.13 130.48 L75.43 130.13 L74.79 129.70 L74.22 129.25 L73.67 128.78 L73.12 128.30 L72.57 127.80 L72.05 127.23 L71.61 126.59 L71.31 125.87 L71.19 125.10 L71.26 124.33 L71.51 123.59 L71.87 122.90 L72.32 122.27 L72.81 121.68 L73.35 121.13 L73.94 120.63 L74.60 120.20 L75.33 119.86 L76.11 119.63 L76.91 119.51 L77.72 119.49 L78.53 119.54 L79.33 119.66 L80.12 119.84 L80.89 120.12 L81.60 120.51 L82.22 121.01 L82.70 121.63 L83.04 122.31 L83.25 123.02 L83.37 123.72 L83.45 124.41 Z" fill="none" stroke="#262626" stroke-width="0.6"/>
<path d="M82.71 125.20 L82.75 125.79 L82.68 126.39 L82.49 126.96 L82.21 127.51 L81.86 128.03 L81.44 128.50 L80.95 128.93 L80.40 129.29 L79.79 129.56 L79.14 129.73 L78.47 129.79 L77.80 129.76 L77.15 129.66 L76.53 129.51 L75.92 129.33 L75.32 129.10 L74.76 128.80 L74.24 128.43 L73.82 127.97 L73.50 127.45 L73.30 126.89 L73.20 126.32 L73.17 125.75 L73.18 125.20 L73.21 124.65 L73.27 124.10 L73.37 123.53 L73.54 122.97 L73.81 122.42 L74.18 121.91 L74.64 121.46 L75.18 121.09 L75.78 120.78 L76.43 120.55 L77.10 120.40 L77.80 120.35 L78.49 120.42 L79.15 120.62 L79.75 120.93 L80.26 121.33 L80.69 121.78 L81.05 122.25 L81.37 122.71 L81.69 123.16 L82.01 123.62 L82.30 124.10 L82.55 124.63 Z" fill="none" stroke="#262626" stroke-width="0.6"/>
<path d="M81.54 125.30 L81.49 125.73 L81.38 126.15 L81.21 126.55 L80.98 126.93 L80.69 127.26 L80.36 127.55 L80.01 127.82 L79.64 128.06 L79.25 128.30 L78.83 128.52 L78.38 128.72 L77.88 128.87 L77.35 128.93 L76.82 128.89 L76.32 128.73 L75.86 128.47 L75.48 128.14 L75.16 127.77 L74.89 127.38 L74.68 126.98 L74.52 126.57 L74.40 126.15 L74.35 125.72 L74.35 125.30 L74.42 124.89 L74.52 124.48 L74.66 124.09 L74.83 123.70 L75.02 123.31 L75.26 122.92 L75.57 122.57 L75.95 122.26 L76.39 122.03 L76.87 121.88 L77.38 121.83 L77.88 121.85 L78.37 121.92 L78.85 122.03 L79.31 122.16 L79.77 122.33 L80.21 122.55 L80.60 122.83 L80.94 123.16 L81.21 123.56 L81.39 123.98 L81.50 124.42 L81.54 124.86 Z" fill="none" stroke="#262626" stroke-width="0.6"/>
<path d="M80.51 125.40 L80.48 125.70 L80.39 125.99 L80.26 126.27 L80.11 126.53 L79.93 126.77 L79.72 127.00 L79.48 127.20 L79.21 127.37 L78.92 127.50 L78.60 127.58 L78.28 127.63 L77.96 127.64 L77.64 127.63 L77.31 127.61 L76.98 127.55 L76.66 127.44 L76.37 127.29 L76.12 127.07 L75.93 126.81 L75.81 126.53 L75.74 126.23 L75.71 125.95 L75.69 125.67 L75.68 125.40 L75.66 125.13 L75.67 124.84 L75.71 124.56 L75.81 124.27 L75.96 124.00 L76.15 123.76 L76.39 123.55 L76.66 123.36 L76.96 123.20 L77.28 123.09 L77.61 123.01 L77.96 123.00 L78.30 123.06 L78.62 123.17 L78.90 123.34 L79.15 123.53 L79.37 123.73 L79.58 123.93 L79.79 124.12 L80.00 124.33 L80.20 124.56 L80.36 124.82 L80.47 125.10 Z" fill="none" stroke="#262626" stroke-width="0.6"/>
<path d="M79.27 125.50 L79.26 125.65 L79.23 125.79 L79.18 125.93 L79.10 126.06 L79.01 126.18 L78.91 126.29 L78.79 126.39 L78.66 126.48 L78.52 126.55 L78.36 126.60 L78.20 126.63 L78.04 126.64 L77.88 126.63 L77.71 126.60 L77.56 126.56 L77.40 126.50 L77.26 126.42 L77.13 126.33 L77.02 126.21 L76.94 126.08 L76.88 125.94 L76.85 125.79 L76.84 125.64 L76.85 125.50 L76.87 125.36 L76.90 125.22 L76.95 125.09 L77.00 124.96 L77.08 124.83 L77.17 124.71 L77.29 124.61 L77.41 124.52 L77.56 124.44 L77.71 124.38 L77.87 124.34 L78.04 124.32 L78.21 124.33 L78.38 124.36 L78.53 124.42 L78.68 124.50 L78.80 124.60 L78.91 124.71 L79.00 124.83 L79.08 124.95 L79.15 125.08 L79.21 125.22 L79.25 125.36 Z" fill="none" stroke="#262626" stroke-width="0.6"/>
<ellipse cx="78.2" cy="125.5" rx="1.3" ry="1.0" fill="#e8e8e8"/>
<path d="M53.2 114 C57 111, 62 108, 65.5 106 C70 99, 78 93, 86.7 91.3 C92 91, 97 94, 98.2 99.2 C99 105, 98 115, 97.5 125 C97 133, 98 138, 100 141" fill="none" stroke="#262626" stroke-width="0.75"/>
<path d="M53.2 116 C58 114, 64 110, 68.4 107.9 C72 103, 79 98.5, 86.7 97.3 C91 97, 95 99, 96 103 C96.5 110, 96 120, 95.8 130" fill="none" stroke="#262626" stroke-width="0.75"/>
<path d="M79.5 106.5 C81 103.5, 82.5 102.4, 83.8 102.4 C85.5 102.4, 87 104, 88 106.5" fill="none" stroke="#262626" stroke-width="0.7"/>
<path d="M53.2 111.5 L58 115 L60.5 119 M53.2 136 L58 133 L60.5 129 M53.2 138 C57 138.3, 62 139, 66 139.6 M53.2 109.5 C57 109, 61 108, 64 107" fill="none" stroke="#262626" stroke-width="0.7"/>
<path d="M119.25 98.81 L119.06 99.77 L118.78 100.75 L118.37 101.71 L117.81 102.58 L117.10 103.30 L116.28 103.84 L115.41 104.18 L114.52 104.35 L113.66 104.38 L112.82 104.32 L112.02 104.19 L111.24 103.97 L110.50 103.66 L109.82 103.24 L109.20 102.71 L108.65 102.08 L108.18 101.38 L107.78 100.62 L107.43 99.81 L107.14 98.95 L106.94 98.03 L106.86 97.06 L106.95 96.06 L107.20 95.08 L107.60 94.16 L108.13 93.32 L108.73 92.57 L109.37 91.89 L110.03 91.26 L110.73 90.67 L111.48 90.13 L112.28 89.69 L113.14 89.40 L114.01 89.29 L114.86 89.39 L115.67 89.65 L116.42 90.06 L117.09 90.58 L117.70 91.17 L118.23 91.83 L118.69 92.56 L119.05 93.36 L119.30 94.22 L119.44 95.12 L119.48 96.03 L119.45 96.95 L119.37 97.87 Z" fill="none" stroke="#1e1e1e" stroke-width="1"/>
<path d="M95.3 45 C91 46.5, 88.6 49, 88.6 53 C88.6 58, 89.5 64, 91.5 67.5 C92.5 69.2, 94.5 69.5, 96 68 C98 66, 99 65.3, 101 64.8 C106 63.5, 112 62.5, 117 59 C121 56, 122.5 51, 120.5 47 C118 42.5, 112 40.8, 105 40.8 C100 40.8, 97.5 42.5, 95.3 45 Z" fill="none" stroke="#222" stroke-width="0.75"/>
<path d="M120.92 50.40 L120.56 51.59 L120.02 52.72 L119.35 53.79 L118.60 54.83 L117.76 55.84 L116.79 56.82 L115.65 57.74 L114.31 58.55 L112.78 59.21 L111.09 59.67 L109.32 59.93 L107.50 60.00 L105.69 59.90 L103.92 59.64 L102.20 59.24 L100.56 58.70 L99.05 58.01 L97.71 57.17 L96.57 56.20 L95.65 55.13 L94.96 53.99 L94.46 52.81 L94.14 51.62 L94.00 50.40 L94.05 49.18 L94.34 47.96 L94.90 46.79 L95.74 45.71 L96.83 44.74 L98.10 43.90 L99.50 43.19 L100.97 42.59 L102.50 42.06 L104.09 41.61 L105.76 41.25 L107.50 41.01 L109.30 40.94 L111.12 41.07 L112.89 41.40 L114.57 41.94 L116.11 42.65 L117.48 43.50 L118.68 44.47 L119.67 45.54 L120.41 46.70 L120.88 47.92 L121.04 49.17 Z" fill="none" stroke="#222" stroke-width="0.7"/>
<path d="M95.3 47.5 C93 49, 92.5 52, 93 55 C93.5 58, 94.5 60, 95.3 61" fill="none" stroke="#222" stroke-width="0.6"/>
<defs><radialGradient id="g11" cx="0.55" cy="0.5" r="0.5"><stop offset="0" stop-color="#1a1a1a"/><stop offset="0.55" stop-color="#222"/><stop offset="0.8" stop-color="#4a4a4a"/><stop offset="1" stop-color="#8a8a8a"/></radialGradient></defs>
<path d="M119.53 49.90 L119.35 50.98 L118.98 52.03 L118.44 53.04 L117.75 53.99 L116.95 54.90 L116.02 55.75 L114.95 56.53 L113.73 57.22 L112.37 57.76 L110.89 58.12 L109.35 58.30 L107.80 58.30 L106.27 58.16 L104.79 57.89 L103.35 57.54 L101.96 57.10 L100.63 56.55 L99.38 55.89 L98.27 55.11 L97.34 54.20 L96.63 53.19 L96.15 52.12 L95.89 51.02 L95.84 49.90 L95.99 48.79 L96.33 47.71 L96.87 46.68 L97.61 45.71 L98.55 44.85 L99.65 44.10 L100.86 43.46 L102.15 42.93 L103.48 42.48 L104.86 42.10 L106.30 41.79 L107.80 41.57 L109.36 41.48 L110.94 41.57 L112.48 41.85 L113.93 42.34 L115.24 42.99 L116.38 43.79 L117.35 44.68 L118.15 45.65 L118.78 46.66 L119.23 47.72 L119.49 48.80 Z" fill="url(#g11)"/>
<path d="M118.93 49.90 L119.00 50.95 L118.92 52.02 L118.63 53.09 L118.10 54.13 L117.34 55.11 L116.35 55.99 L115.19 56.75 L113.88 57.40 L112.46 57.91 L110.96 58.30 L109.40 58.54 L107.80 58.62 L106.21 58.52 L104.66 58.25 L103.19 57.82 L101.85 57.24 L100.63 56.55 L99.55 55.77 L98.60 54.92 L97.80 54.01 L97.16 53.04 L96.72 52.01 L96.48 50.96 L96.44 49.90 L96.61 48.85 L96.93 47.83 L97.38 46.83 L97.95 45.85 L98.64 44.90 L99.48 43.97 L100.49 43.12 L101.68 42.36 L103.06 41.75 L104.57 41.31 L106.17 41.07 L107.80 41.02 L109.42 41.15 L110.98 41.45 L112.46 41.90 L113.81 42.49 L115.02 43.20 L116.05 44.03 L116.89 44.93 L117.55 45.89 L118.06 46.87 L118.45 47.87 L118.73 48.88 Z" fill="none" stroke="#222" stroke-width="0.5"/>
<path d="M117.99 49.90 L117.90 50.85 L117.71 51.79 L117.43 52.74 L117.01 53.68 L116.40 54.59 L115.56 55.42 L114.51 56.12 L113.27 56.64 L111.91 56.96 L110.52 57.12 L109.14 57.14 L107.80 57.07 L106.50 56.93 L105.23 56.72 L103.99 56.44 L102.81 56.05 L101.70 55.56 L100.68 54.96 L99.77 54.28 L98.96 53.53 L98.24 52.72 L97.63 51.84 L97.16 50.90 L96.89 49.90 L96.88 48.88 L97.17 47.87 L97.75 46.94 L98.55 46.10 L99.52 45.38 L100.57 44.75 L101.65 44.20 L102.77 43.69 L103.92 43.24 L105.15 42.86 L106.45 42.60 L107.80 42.49 L109.16 42.54 L110.49 42.75 L111.76 43.10 L112.96 43.55 L114.07 44.08 L115.10 44.70 L116.03 45.41 L116.80 46.20 L117.39 47.07 L117.78 48.00 L117.97 48.95 Z" fill="none" stroke="#222" stroke-width="0.5"/>
<path d="M116.86 49.90 L116.84 50.76 L116.68 51.62 L116.38 52.47 L115.92 53.29 L115.27 54.04 L114.45 54.70 L113.46 55.23 L112.37 55.61 L111.22 55.86 L110.06 56.00 L108.92 56.06 L107.80 56.06 L106.69 56.02 L105.57 55.90 L104.47 55.71 L103.40 55.41 L102.38 55.00 L101.46 54.48 L100.63 53.87 L99.92 53.18 L99.33 52.43 L98.87 51.63 L98.57 50.78 L98.45 49.90 L98.54 49.02 L98.85 48.17 L99.34 47.37 L99.99 46.64 L100.74 45.99 L101.56 45.39 L102.44 44.85 L103.37 44.36 L104.38 43.94 L105.47 43.61 L106.62 43.41 L107.80 43.36 L108.98 43.45 L110.11 43.67 L111.19 43.99 L112.20 44.40 L113.15 44.87 L114.03 45.40 L114.83 46.01 L115.52 46.68 L116.08 47.42 L116.49 48.22 L116.75 49.05 Z" fill="none" stroke="#222" stroke-width="0.5"/>
<path d="M53.2 140.3 C65 140.0, 85 140.3, 94 140.8 C99 141.5, 104 143, 109 145 L53.2 145 Z" fill="#1c1c1c"/>
<path d="M55.2 141.5 L90 141.8" stroke="#555" stroke-width="0.6"/>
<line x1="53.20" y1="21.60" x2="176.70" y2="21.60" stroke="#b5b5b5" stroke-width="1" />
<line x1="176.70" y1="21.60" x2="176.70" y2="144.80" stroke="#a0a0a0" stroke-width="1" />
<line x1="53.20" y1="21.10" x2="53.20" y2="145.40" stroke="#151515" stroke-width="1.5" />
<line x1="52.60" y1="144.80" x2="177.10" y2="144.80" stroke="#151515" stroke-width="1.5" />
<line x1="95.30" y1="21.60" x2="95.30" y2="144.80" stroke="#1a1a1a" stroke-width="1.3" />
<line x1="53.20" y1="107.10" x2="176.70" y2="107.10" stroke="#1a1a1a" stroke-width="1.5" />
<line x1="50.40" y1="48.80" x2="53.20" y2="48.80" stroke="#333" stroke-width="0.8" />
<line x1="50.40" y1="77.50" x2="53.20" y2="77.50" stroke="#333" stroke-width="0.8" />
<line x1="50.40" y1="106.20" x2="53.20" y2="106.20" stroke="#333" stroke-width="0.8" />
<line x1="51.60" y1="40.16" x2="53.20" y2="40.16" stroke="#555" stroke-width="0.6" />
<line x1="51.60" y1="35.11" x2="53.20" y2="35.11" stroke="#555" stroke-width="0.6" />
<line x1="51.60" y1="31.52" x2="53.20" y2="31.52" stroke="#555" stroke-width="0.6" />
<line x1="51.60" y1="28.74" x2="53.20" y2="28.74" stroke="#555" stroke-width="0.6" />
<line x1="51.60" y1="26.47" x2="53.20" y2="26.47" stroke="#555" stroke-width="0.6" />
<line x1="51.60" y1="24.55" x2="53.20" y2="24.55" stroke="#555" stroke-width="0.6" />
<line x1="51.60" y1="22.88" x2="53.20" y2="22.88" stroke="#555" stroke-width="0.6" />
<line x1="51.60" y1="68.86" x2="53.20" y2="68.86" stroke="#555" stroke-width="0.6" />
<line x1="51.60" y1="63.81" x2="53.20" y2="63.81" stroke="#555" stroke-width="0.6" />
<line x1="51.60" y1="60.22" x2="53.20" y2="60.22" stroke="#555" stroke-width="0.6" />
<line x1="51.60" y1="57.44" x2="53.20" y2="57.44" stroke="#555" stroke-width="0.6" />
<line x1="51.60" y1="55.17" x2="53.20" y2="55.17" stroke="#555" stroke-width="0.6" />
<line x1="51.60" y1="53.25" x2="53.20" y2="53.25" stroke="#555" stroke-width="0.6" />
<line x1="51.60" y1="51.58" x2="53.20" y2="51.58" stroke="#555" stroke-width="0.6" />
<line x1="51.60" y1="50.11" x2="53.20" y2="50.11" stroke="#555" stroke-width="0.6" />
<line x1="51.60" y1="97.56" x2="53.20" y2="97.56" stroke="#555" stroke-width="0.6" />
<line x1="51.60" y1="92.51" x2="53.20" y2="92.51" stroke="#555" stroke-width="0.6" />
<line x1="51.60" y1="88.92" x2="53.20" y2="88.92" stroke="#555" stroke-width="0.6" />
<line x1="51.60" y1="86.14" x2="53.20" y2="86.14" stroke="#555" stroke-width="0.6" />
<line x1="51.60" y1="83.87" x2="53.20" y2="83.87" stroke="#555" stroke-width="0.6" />
<line x1="51.60" y1="81.95" x2="53.20" y2="81.95" stroke="#555" stroke-width="0.6" />
<line x1="51.60" y1="80.28" x2="53.20" y2="80.28" stroke="#555" stroke-width="0.6" />
<line x1="51.60" y1="78.81" x2="53.20" y2="78.81" stroke="#555" stroke-width="0.6" />
<line x1="50.40" y1="134.70" x2="53.20" y2="134.70" stroke="#333" stroke-width="0.8" />
<line x1="51.60" y1="138.50" x2="53.20" y2="138.50" stroke="#555" stroke-width="0.6" />
<line x1="51.60" y1="141.50" x2="53.20" y2="141.50" stroke="#555" stroke-width="0.6" />
<line x1="51.60" y1="127.00" x2="53.20" y2="127.00" stroke="#555" stroke-width="0.6" />
<line x1="51.60" y1="122.00" x2="53.20" y2="122.00" stroke="#555" stroke-width="0.6" />
<line x1="51.60" y1="118.00" x2="53.20" y2="118.00" stroke="#555" stroke-width="0.6" />
<line x1="51.60" y1="113.00" x2="53.20" y2="113.00" stroke="#555" stroke-width="0.6" />
<line x1="60.00" y1="144.80" x2="60.00" y2="147.40" stroke="#333" stroke-width="0.8" />
<line x1="94.20" y1="144.80" x2="94.20" y2="147.40" stroke="#333" stroke-width="0.8" />
<line x1="121.20" y1="144.80" x2="121.20" y2="147.40" stroke="#333" stroke-width="0.8" />
<line x1="148.20" y1="144.80" x2="148.20" y2="147.40" stroke="#333" stroke-width="0.8" />
<line x1="102.33" y1="144.80" x2="102.33" y2="147.00" stroke="#444" stroke-width="0.7" />
<line x1="107.08" y1="144.80" x2="107.08" y2="147.00" stroke="#444" stroke-width="0.7" />
<line x1="110.46" y1="144.80" x2="110.46" y2="147.00" stroke="#444" stroke-width="0.7" />
<line x1="113.07" y1="144.80" x2="113.07" y2="147.00" stroke="#444" stroke-width="0.7" />
<line x1="115.21" y1="144.80" x2="115.21" y2="147.00" stroke="#444" stroke-width="0.7" />
<line x1="117.02" y1="144.80" x2="117.02" y2="147.00" stroke="#444" stroke-width="0.7" />
<line x1="118.58" y1="144.80" x2="118.58" y2="147.00" stroke="#444" stroke-width="0.7" />
<line x1="119.96" y1="144.80" x2="119.96" y2="147.00" stroke="#444" stroke-width="0.7" />
<line x1="129.33" y1="144.80" x2="129.33" y2="147.00" stroke="#444" stroke-width="0.7" />
<line x1="134.08" y1="144.80" x2="134.08" y2="147.00" stroke="#444" stroke-width="0.7" />
<line x1="137.46" y1="144.80" x2="137.46" y2="147.00" stroke="#444" stroke-width="0.7" />
<line x1="140.07" y1="144.80" x2="140.07" y2="147.00" stroke="#444" stroke-width="0.7" />
<line x1="142.21" y1="144.80" x2="142.21" y2="147.00" stroke="#444" stroke-width="0.7" />
<line x1="144.02" y1="144.80" x2="144.02" y2="147.00" stroke="#444" stroke-width="0.7" />
<line x1="145.58" y1="144.80" x2="145.58" y2="147.00" stroke="#444" stroke-width="0.7" />
<line x1="146.96" y1="144.80" x2="146.96" y2="147.00" stroke="#444" stroke-width="0.7" />
<line x1="156.33" y1="144.80" x2="156.33" y2="147.00" stroke="#444" stroke-width="0.7" />
<line x1="161.08" y1="144.80" x2="161.08" y2="147.00" stroke="#444" stroke-width="0.7" />
<line x1="164.46" y1="144.80" x2="164.46" y2="147.00" stroke="#444" stroke-width="0.7" />
<line x1="167.07" y1="144.80" x2="167.07" y2="147.00" stroke="#444" stroke-width="0.7" />
<line x1="169.21" y1="144.80" x2="169.21" y2="147.00" stroke="#444" stroke-width="0.7" />
<line x1="171.02" y1="144.80" x2="171.02" y2="147.00" stroke="#444" stroke-width="0.7" />
<line x1="172.58" y1="144.80" x2="172.58" y2="147.00" stroke="#444" stroke-width="0.7" />
<line x1="173.96" y1="144.80" x2="173.96" y2="147.00" stroke="#444" stroke-width="0.7" />
<line x1="64.00" y1="144.80" x2="64.00" y2="147.00" stroke="#444" stroke-width="0.7" />
<line x1="68.00" y1="144.80" x2="68.00" y2="147.00" stroke="#444" stroke-width="0.7" />
<line x1="72.00" y1="144.80" x2="72.00" y2="147.00" stroke="#444" stroke-width="0.7" />
<line x1="57.00" y1="144.80" x2="57.00" y2="147.00" stroke="#444" stroke-width="0.7" />
<line x1="76.00" y1="144.80" x2="76.00" y2="147.00" stroke="#444" stroke-width="0.7" />
<line x1="80.00" y1="144.80" x2="80.00" y2="147.00" stroke="#444" stroke-width="0.7" />
<line x1="84.00" y1="144.80" x2="84.00" y2="147.00" stroke="#444" stroke-width="0.7" />
<line x1="88.00" y1="144.80" x2="88.00" y2="147.00" stroke="#444" stroke-width="0.7" />
<text transform="translate(47.80,51.70) scale(0.9,1)" font-size="8.3" text-anchor="end" font-weight="normal" fill="#111">10<tspan font-size="5.8" dy="-3.2">3</tspan></text>
<text transform="translate(47.80,80.40) scale(0.9,1)" font-size="8.3" text-anchor="end" font-weight="normal" fill="#111">10<tspan font-size="5.8" dy="-3.2">2</tspan></text>
<text transform="translate(47.80,109.10) scale(0.9,1)" font-size="8.3" text-anchor="end" font-weight="normal" fill="#111">10<tspan font-size="5.8" dy="-3.2">1</tspan></text>
<text transform="translate(44.70,137.60) scale(0.9,1)" font-size="8.3" text-anchor="end" font-weight="normal" fill="#111">0</text>
<text transform="translate(60.20,157.90) scale(0.9,1)" font-size="8.3" text-anchor="middle" font-weight="normal" fill="#111">0</text>
<text transform="translate(93.80,157.70) scale(0.9,1)" font-size="8.3" text-anchor="middle" font-weight="normal" fill="#111">10<tspan font-size="5.8" dy="-3.2">1</tspan></text>
<text transform="translate(120.80,157.70) scale(0.9,1)" font-size="8.3" text-anchor="middle" font-weight="normal" fill="#111">10<tspan font-size="5.8" dy="-3.2">2</tspan></text>
<text transform="translate(147.80,157.70) scale(0.9,1)" font-size="8.3" text-anchor="middle" font-weight="normal" fill="#111">10<tspan font-size="5.8" dy="-3.2">3</tspan></text>
<g fill="#606060" fill-opacity="0.75"><circle cx="241.2" cy="63.8" r="0.64"/><circle cx="222.2" cy="57.6" r="0.55"/><circle cx="210.4" cy="69.1" r="0.67"/><circle cx="233.1" cy="47.3" r="0.41"/><circle cx="235.0" cy="104.4" r="0.47"/><circle cx="224.1" cy="66.6" r="0.67"/><circle cx="211.4" cy="56.0" r="0.55"/><circle cx="214.9" cy="96.1" r="0.45"/><circle cx="202.4" cy="92.2" r="0.57"/><circle cx="228.3" cy="46.1" r="0.62"/><circle cx="205.0" cy="89.1" r="0.58"/><circle cx="228.6" cy="63.8" r="0.41"/><circle cx="235.9" cy="57.6" r="0.41"/><circle cx="218.9" cy="51.9" r="0.52"/><circle cx="227.5" cy="50.2" r="0.40"/><circle cx="209.3" cy="91.0" r="0.43"/><circle cx="221.8" cy="84.7" r="0.59"/><circle cx="230.9" cy="81.4" r="0.53"/><circle cx="210.0" cy="86.9" r="0.43"/><circle cx="206.8" cy="61.2" r="0.66"/><circle cx="219.8" cy="51.9" r="0.51"/><circle cx="206.4" cy="84.1" r="0.66"/><circle cx="231.2" cy="67.2" r="0.58"/><circle cx="217.5" cy="57.5" r="0.59"/><circle cx="222.6" cy="79.8" r="0.53"/><circle cx="238.7" cy="47.4" r="0.60"/><circle cx="237.7" cy="104.4" r="0.47"/><circle cx="215.8" cy="88.5" r="0.48"/><circle cx="234.5" cy="84.1" r="0.66"/><circle cx="213.6" cy="82.4" r="0.46"/><circle cx="236.5" cy="51.4" r="0.52"/><circle cx="221.0" cy="46.4" r="0.62"/><circle cx="235.3" cy="91.7" r="0.50"/><circle cx="204.1" cy="89.7" r="0.51"/><circle cx="229.3" cy="52.6" r="0.67"/><circle cx="222.8" cy="86.4" r="0.46"/><circle cx="215.4" cy="75.2" r="0.47"/><circle cx="240.4" cy="83.1" r="0.67"/><circle cx="221.9" cy="49.0" r="0.48"/><circle cx="207.0" cy="96.0" r="0.50"/><circle cx="231.3" cy="95.1" r="0.66"/><circle cx="224.8" cy="79.6" r="0.50"/><circle cx="223.0" cy="89.1" r="0.70"/><circle cx="215.2" cy="74.8" r="0.65"/><circle cx="220.6" cy="84.7" r="0.65"/><circle cx="210.7" cy="46.5" r="0.47"/><circle cx="205.8" cy="55.8" r="0.47"/><circle cx="235.7" cy="88.0" r="0.63"/><circle cx="231.5" cy="71.7" r="0.65"/><circle cx="206.3" cy="72.9" r="0.47"/><circle cx="236.0" cy="75.5" r="0.46"/><circle cx="226.9" cy="67.5" r="0.47"/><circle cx="208.2" cy="82.6" r="0.44"/><circle cx="221.2" cy="65.7" r="0.53"/><circle cx="212.4" cy="86.8" r="0.55"/><circle cx="214.7" cy="79.6" r="0.59"/><circle cx="212.4" cy="90.2" r="0.42"/><circle cx="216.9" cy="73.7" r="0.46"/><circle cx="238.5" cy="88.1" r="0.44"/><circle cx="231.0" cy="65.4" r="0.48"/><circle cx="235.1" cy="68.1" r="0.46"/><circle cx="240.8" cy="98.8" r="0.68"/><circle cx="228.0" cy="94.9" r="0.51"/><circle cx="223.5" cy="89.0" r="0.44"/><circle cx="207.2" cy="104.3" r="0.60"/><circle cx="233.5" cy="53.5" r="0.69"/><circle cx="211.8" cy="79.5" r="0.64"/><circle cx="232.0" cy="53.9" r="0.59"/><circle cx="239.8" cy="65.8" r="0.51"/><circle cx="241.1" cy="90.2" r="0.52"/><circle cx="221.2" cy="66.8" r="0.49"/><circle cx="206.1" cy="50.3" r="0.64"/><circle cx="226.8" cy="91.4" r="0.64"/><circle cx="237.7" cy="66.9" r="0.55"/><circle cx="238.9" cy="62.8" r="0.66"/><circle cx="239.0" cy="100.1" r="0.60"/><circle cx="208.3" cy="96.6" r="0.61"/><circle cx="229.7" cy="87.1" r="0.48"/><circle cx="235.1" cy="77.2" r="0.47"/><circle cx="222.1" cy="67.0" r="0.47"/><circle cx="236.0" cy="99.1" r="0.67"/><circle cx="208.6" cy="91.3" r="0.64"/><circle cx="213.0" cy="56.0" r="0.67"/><circle cx="210.0" cy="79.4" r="0.65"/><circle cx="213.2" cy="59.5" r="0.64"/><circle cx="206.1" cy="64.5" r="0.53"/><circle cx="232.5" cy="46.3" r="0.63"/><circle cx="221.1" cy="81.2" r="0.45"/><circle cx="204.2" cy="62.6" r="0.60"/><circle cx="237.7" cy="104.7" r="0.41"/><circle cx="235.5" cy="55.2" r="0.69"/><circle cx="232.1" cy="72.1" r="0.66"/><circle cx="209.0" cy="73.9" r="0.45"/><circle cx="238.3" cy="97.6" r="0.63"/><circle cx="217.6" cy="48.8" r="0.65"/><circle cx="237.4" cy="104.2" r="0.41"/><circle cx="222.2" cy="58.5" r="0.57"/><circle cx="223.5" cy="86.8" r="0.53"/><circle cx="221.1" cy="66.2" r="0.59"/><circle cx="212.0" cy="62.8" r="0.67"/><circle cx="204.2" cy="60.3" r="0.62"/><circle cx="239.5" cy="45.5" r="0.46"/><circle cx="230.7" cy="92.3" r="0.57"/><circle cx="218.1" cy="80.7" r="0.57"/><circle cx="210.9" cy="85.1" r="0.40"/><circle cx="229.9" cy="89.1" r="0.44"/><circle cx="221.5" cy="103.2" r="0.51"/><circle cx="236.1" cy="79.3" r="0.45"/><circle cx="228.9" cy="61.5" r="0.47"/><circle cx="239.1" cy="83.7" r="0.60"/><circle cx="237.2" cy="62.3" r="0.69"/><circle cx="240.6" cy="51.3" r="0.54"/><circle cx="223.0" cy="51.6" r="0.59"/><circle cx="209.7" cy="90.8" r="0.63"/><circle cx="204.9" cy="68.0" r="0.60"/><circle cx="209.8" cy="96.0" r="0.60"/><circle cx="205.5" cy="65.2" r="0.40"/><circle cx="235.7" cy="86.2" r="0.66"/><circle cx="229.7" cy="104.5" r="0.45"/><circle cx="203.2" cy="84.9" r="0.45"/><circle cx="231.4" cy="89.9" r="0.55"/><circle cx="230.1" cy="49.3" r="0.58"/><circle cx="205.6" cy="91.4" r="0.63"/><circle cx="226.2" cy="60.8" r="0.49"/><circle cx="202.7" cy="77.0" r="0.68"/><circle cx="205.8" cy="89.9" r="0.59"/><circle cx="215.6" cy="93.4" r="0.65"/><circle cx="206.0" cy="74.6" r="0.54"/><circle cx="206.2" cy="91.8" r="0.42"/><circle cx="224.1" cy="59.1" r="0.40"/><circle cx="239.9" cy="85.9" r="0.59"/><circle cx="215.4" cy="96.3" r="0.53"/><circle cx="217.1" cy="101.5" r="0.53"/><circle cx="213.9" cy="104.1" r="0.50"/><circle cx="204.7" cy="89.1" r="0.45"/><circle cx="213.7" cy="70.4" r="0.54"/><circle cx="227.1" cy="47.7" r="0.48"/><circle cx="211.0" cy="51.2" r="0.67"/><circle cx="231.1" cy="58.3" r="0.45"/><circle cx="221.7" cy="64.7" r="0.69"/><circle cx="211.5" cy="101.1" r="0.66"/><circle cx="222.1" cy="84.0" r="0.52"/><circle cx="229.8" cy="94.3" r="0.63"/><circle cx="212.6" cy="49.7" r="0.57"/><circle cx="220.5" cy="55.2" r="0.54"/><circle cx="203.1" cy="100.2" r="0.64"/><circle cx="226.7" cy="69.9" r="0.65"/><circle cx="207.6" cy="90.7" r="0.46"/><circle cx="223.1" cy="55.5" r="0.67"/><circle cx="240.6" cy="102.0" r="0.41"/><circle cx="238.5" cy="94.6" r="0.40"/><circle cx="223.0" cy="63.0" r="0.55"/><circle cx="227.7" cy="54.1" r="0.49"/><circle cx="226.4" cy="49.0" r="0.53"/><circle cx="202.8" cy="87.9" r="0.54"/><circle cx="215.7" cy="86.8" r="0.54"/><circle cx="232.7" cy="95.1" r="0.67"/><circle cx="226.3" cy="95.8" r="0.68"/><circle cx="228.0" cy="100.6" r="0.50"/><circle cx="237.3" cy="47.6" r="0.49"/><circle cx="212.7" cy="68.3" r="0.60"/><circle cx="212.1" cy="55.6" r="0.46"/><circle cx="236.4" cy="46.5" r="0.52"/><circle cx="209.4" cy="90.6" r="0.62"/><circle cx="211.0" cy="60.5" r="0.40"/><circle cx="240.0" cy="90.8" r="0.63"/><circle cx="219.8" cy="53.2" r="0.62"/><circle cx="212.8" cy="103.9" r="0.52"/><circle cx="233.2" cy="49.2" r="0.47"/><circle cx="229.9" cy="67.6" r="0.56"/><circle cx="241.8" cy="81.7" r="0.49"/><circle cx="231.2" cy="82.8" r="0.65"/><circle cx="235.9" cy="95.7" r="0.58"/><circle cx="233.2" cy="76.2" r="0.49"/><circle cx="226.9" cy="81.2" r="0.64"/><circle cx="247.9" cy="99.1" r="0.58"/><circle cx="236.7" cy="79.8" r="0.44"/><circle cx="258.5" cy="90.1" r="0.52"/><circle cx="236.9" cy="82.8" r="0.55"/><circle cx="213.3" cy="67.6" r="0.68"/><circle cx="235.2" cy="90.1" r="0.50"/><circle cx="227.4" cy="69.8" r="0.53"/><circle cx="213.0" cy="80.7" r="0.69"/><circle cx="212.8" cy="96.7" r="0.53"/><circle cx="240.8" cy="77.3" r="0.65"/><circle cx="219.8" cy="40.1" r="0.43"/><circle cx="223.2" cy="82.7" r="0.52"/><circle cx="241.9" cy="93.0" r="0.46"/><circle cx="237.4" cy="87.8" r="0.67"/><circle cx="238.2" cy="103.8" r="0.57"/><circle cx="217.5" cy="79.1" r="0.47"/><circle cx="245.9" cy="94.8" r="0.43"/><circle cx="215.9" cy="87.2" r="0.53"/><circle cx="227.5" cy="86.1" r="0.43"/><circle cx="228.0" cy="91.8" r="0.55"/><circle cx="225.6" cy="96.1" r="0.62"/><circle cx="233.2" cy="81.2" r="0.49"/><circle cx="229.0" cy="79.3" r="0.45"/><circle cx="240.1" cy="81.5" r="0.51"/><circle cx="233.8" cy="79.9" r="0.45"/><circle cx="212.5" cy="96.8" r="0.65"/><circle cx="217.6" cy="93.8" r="0.43"/><circle cx="235.3" cy="63.5" r="0.62"/><circle cx="219.0" cy="78.3" r="0.50"/><circle cx="220.5" cy="69.6" r="0.62"/><circle cx="239.2" cy="81.9" r="0.63"/><circle cx="234.9" cy="79.4" r="0.44"/><circle cx="234.0" cy="75.2" r="0.63"/><circle cx="230.0" cy="92.6" r="0.68"/><circle cx="230.8" cy="79.1" r="0.57"/><circle cx="217.3" cy="87.2" r="0.59"/><circle cx="234.4" cy="81.6" r="0.50"/><circle cx="221.1" cy="92.1" r="0.45"/><circle cx="260.1" cy="81.1" r="0.62"/><circle cx="234.3" cy="89.9" r="0.65"/><circle cx="221.8" cy="103.0" r="0.46"/><circle cx="227.3" cy="74.9" r="0.43"/><circle cx="227.7" cy="87.2" r="0.51"/><circle cx="223.6" cy="84.3" r="0.59"/><circle cx="214.1" cy="82.1" r="0.51"/><circle cx="238.8" cy="88.5" r="0.69"/><circle cx="244.5" cy="98.2" r="0.64"/><circle cx="250.3" cy="99.1" r="0.67"/><circle cx="228.9" cy="88.4" r="0.58"/><circle cx="232.4" cy="88.9" r="0.63"/><circle cx="232.7" cy="74.8" r="0.69"/><circle cx="205.1" cy="76.3" r="0.41"/><circle cx="206.0" cy="85.9" r="0.57"/><circle cx="230.4" cy="63.2" r="0.46"/><circle cx="238.6" cy="96.3" r="0.64"/><circle cx="252.8" cy="69.3" r="0.47"/><circle cx="242.7" cy="90.7" r="0.62"/><circle cx="235.3" cy="97.1" r="0.50"/><circle cx="221.7" cy="77.3" r="0.60"/><circle cx="220.4" cy="75.2" r="0.60"/><circle cx="229.1" cy="66.1" r="0.67"/><circle cx="217.8" cy="92.5" r="0.66"/><circle cx="229.4" cy="90.0" r="0.53"/><circle cx="207.6" cy="74.8" r="0.61"/><circle cx="223.6" cy="85.4" r="0.45"/><circle cx="223.3" cy="97.1" r="0.43"/><circle cx="229.6" cy="85.2" r="0.61"/><circle cx="230.5" cy="94.2" r="0.67"/><circle cx="224.6" cy="99.6" r="0.62"/><circle cx="235.8" cy="87.0" r="0.56"/><circle cx="230.8" cy="91.8" r="0.59"/><circle cx="242.5" cy="97.3" r="0.62"/><circle cx="234.8" cy="96.4" r="0.57"/><circle cx="231.7" cy="101.3" r="0.51"/><circle cx="230.0" cy="58.0" r="0.66"/><circle cx="246.4" cy="86.4" r="0.51"/><circle cx="216.2" cy="82.4" r="0.67"/><circle cx="236.3" cy="64.6" r="0.64"/><circle cx="236.9" cy="79.8" r="0.64"/><circle cx="253.3" cy="71.3" r="0.65"/><circle cx="203.3" cy="85.9" r="0.70"/><circle cx="226.1" cy="79.6" r="0.70"/><circle cx="204.6" cy="90.5" r="0.55"/><circle cx="250.4" cy="60.2" r="0.51"/><circle cx="244.4" cy="77.6" r="0.62"/><circle cx="258.5" cy="90.7" r="0.69"/><circle cx="228.0" cy="99.4" r="0.59"/><circle cx="236.6" cy="77.3" r="0.41"/><circle cx="238.8" cy="78.4" r="0.41"/><circle cx="226.1" cy="77.1" r="0.54"/><circle cx="234.4" cy="64.7" r="0.64"/><circle cx="214.1" cy="78.5" r="0.67"/><circle cx="224.1" cy="85.9" r="0.51"/><circle cx="243.8" cy="78.8" r="0.56"/><circle cx="236.2" cy="92.8" r="0.55"/><circle cx="217.3" cy="88.0" r="0.43"/><circle cx="219.0" cy="98.8" r="0.40"/><circle cx="235.8" cy="85.2" r="0.56"/><circle cx="214.2" cy="86.5" r="0.55"/><circle cx="221.1" cy="94.2" r="0.66"/><circle cx="228.9" cy="74.4" r="0.45"/><circle cx="241.4" cy="94.4" r="0.66"/><circle cx="223.2" cy="100.1" r="0.48"/><circle cx="226.7" cy="81.0" r="0.56"/><circle cx="231.8" cy="75.2" r="0.61"/><circle cx="225.0" cy="82.9" r="0.44"/><circle cx="248.7" cy="104.5" r="0.68"/><circle cx="257.3" cy="78.3" r="0.69"/><circle cx="268.0" cy="57.5" r="0.69"/><circle cx="243.6" cy="62.6" r="0.40"/><circle cx="259.9" cy="94.1" r="0.59"/><circle cx="256.2" cy="85.7" r="0.60"/><circle cx="260.9" cy="56.0" r="0.66"/><circle cx="249.4" cy="104.9" r="0.46"/><circle cx="251.9" cy="102.3" r="0.44"/><circle cx="256.6" cy="66.1" r="0.64"/><circle cx="242.4" cy="65.9" r="0.48"/><circle cx="251.6" cy="77.0" r="0.42"/><circle cx="255.3" cy="82.4" r="0.43"/><circle cx="256.1" cy="56.6" r="0.59"/><circle cx="250.0" cy="103.1" r="0.56"/><circle cx="243.1" cy="91.7" r="0.62"/><circle cx="256.1" cy="90.3" r="0.64"/><circle cx="251.9" cy="73.5" r="0.40"/><circle cx="257.3" cy="100.5" r="0.68"/><circle cx="251.8" cy="59.3" r="0.66"/><circle cx="243.4" cy="99.1" r="0.68"/><circle cx="251.4" cy="61.0" r="0.63"/><circle cx="259.6" cy="97.2" r="0.52"/><circle cx="259.7" cy="62.6" r="0.47"/><circle cx="254.1" cy="68.3" r="0.67"/><circle cx="242.8" cy="103.3" r="0.53"/><circle cx="255.6" cy="61.7" r="0.55"/><circle cx="268.0" cy="104.3" r="0.61"/><circle cx="266.0" cy="67.7" r="0.61"/><circle cx="247.8" cy="81.3" r="0.61"/><circle cx="259.2" cy="98.9" r="0.59"/><circle cx="270.4" cy="100.5" r="0.55"/><circle cx="252.2" cy="84.3" r="0.63"/><circle cx="245.9" cy="80.9" r="0.52"/><circle cx="244.4" cy="60.6" r="0.48"/><circle cx="245.8" cy="70.1" r="0.67"/><circle cx="251.3" cy="90.3" r="0.65"/><circle cx="244.5" cy="60.6" r="0.62"/><circle cx="261.3" cy="88.6" r="0.45"/><circle cx="262.9" cy="91.0" r="0.41"/><circle cx="261.5" cy="82.6" r="0.68"/><circle cx="263.8" cy="59.1" r="0.68"/><circle cx="248.4" cy="92.1" r="0.48"/><circle cx="247.9" cy="81.5" r="0.59"/><circle cx="249.8" cy="76.6" r="0.41"/><circle cx="266.5" cy="88.0" r="0.52"/><circle cx="255.2" cy="68.7" r="0.61"/><circle cx="265.6" cy="87.9" r="0.51"/><circle cx="255.1" cy="98.5" r="0.64"/><circle cx="262.4" cy="104.0" r="0.67"/><circle cx="261.6" cy="100.0" r="0.44"/><circle cx="258.3" cy="90.5" r="0.61"/><circle cx="266.7" cy="59.5" r="0.51"/><circle cx="256.1" cy="85.3" r="0.45"/><circle cx="244.0" cy="94.5" r="0.50"/><circle cx="263.1" cy="101.8" r="0.54"/><circle cx="253.1" cy="78.5" r="0.67"/><circle cx="268.7" cy="75.6" r="0.63"/><circle cx="266.5" cy="76.1" r="0.40"/><circle cx="252.1" cy="68.9" r="0.42"/><circle cx="248.5" cy="76.6" r="0.70"/><circle cx="247.0" cy="96.4" r="0.57"/><circle cx="270.6" cy="59.9" r="0.58"/><circle cx="243.9" cy="55.2" r="0.51"/><circle cx="269.3" cy="58.7" r="0.65"/><circle cx="262.0" cy="70.2" r="0.57"/><circle cx="248.0" cy="67.3" r="0.58"/><circle cx="262.3" cy="55.9" r="0.47"/><circle cx="267.4" cy="83.4" r="0.63"/><circle cx="249.1" cy="65.4" r="0.46"/><circle cx="261.3" cy="86.5" r="0.44"/><circle cx="246.4" cy="79.5" r="0.58"/><circle cx="242.0" cy="72.8" r="0.65"/><circle cx="246.3" cy="61.5" r="0.49"/><circle cx="254.0" cy="60.1" r="0.49"/><circle cx="265.5" cy="64.2" r="0.44"/><circle cx="266.2" cy="59.1" r="0.58"/><circle cx="255.1" cy="58.0" r="0.63"/><circle cx="239.6" cy="71.6" r="0.44"/><circle cx="255.7" cy="57.3" r="0.56"/><circle cx="259.8" cy="62.0" r="0.56"/><circle cx="251.3" cy="73.8" r="0.43"/><circle cx="255.1" cy="52.0" r="0.56"/><circle cx="263.2" cy="75.6" r="0.48"/><circle cx="246.9" cy="59.8" r="0.46"/><circle cx="236.7" cy="56.4" r="0.70"/><circle cx="254.7" cy="66.6" r="0.43"/><circle cx="241.2" cy="64.7" r="0.50"/><circle cx="262.8" cy="66.7" r="0.59"/><circle cx="245.6" cy="83.5" r="0.52"/><circle cx="254.0" cy="70.4" r="0.41"/><circle cx="245.4" cy="54.5" r="0.66"/><circle cx="240.9" cy="65.2" r="0.47"/><circle cx="248.5" cy="73.6" r="0.52"/><circle cx="254.7" cy="72.2" r="0.67"/><circle cx="252.1" cy="59.9" r="0.69"/><circle cx="233.1" cy="64.8" r="0.67"/><circle cx="242.7" cy="63.5" r="0.52"/><circle cx="248.1" cy="57.6" r="0.62"/><circle cx="241.4" cy="69.0" r="0.65"/><circle cx="251.2" cy="63.4" r="0.46"/><circle cx="254.3" cy="67.8" r="0.69"/><circle cx="242.1" cy="70.4" r="0.43"/><circle cx="265.4" cy="63.3" r="0.60"/><circle cx="259.6" cy="83.8" r="0.47"/><circle cx="262.3" cy="61.8" r="0.46"/><circle cx="266.4" cy="71.2" r="0.44"/><circle cx="248.3" cy="67.7" r="0.68"/><circle cx="255.1" cy="70.5" r="0.44"/><circle cx="248.9" cy="82.8" r="0.67"/><circle cx="244.5" cy="59.6" r="0.45"/><circle cx="256.6" cy="77.0" r="0.50"/><circle cx="259.1" cy="59.3" r="0.46"/><circle cx="259.0" cy="74.8" r="0.70"/><circle cx="264.4" cy="57.5" r="0.43"/><circle cx="252.0" cy="67.2" r="0.66"/><circle cx="237.6" cy="62.9" r="0.49"/><circle cx="259.3" cy="65.3" r="0.69"/><circle cx="244.5" cy="78.7" r="0.63"/><circle cx="258.2" cy="79.9" r="0.48"/><circle cx="244.0" cy="69.4" r="0.55"/><circle cx="267.5" cy="90.4" r="0.45"/><circle cx="253.3" cy="100.8" r="0.52"/><circle cx="271.8" cy="86.9" r="0.41"/><circle cx="238.5" cy="84.8" r="0.60"/><circle cx="251.2" cy="94.0" r="0.58"/><circle cx="264.2" cy="94.0" r="0.48"/><circle cx="253.7" cy="96.1" r="0.40"/><circle cx="251.6" cy="94.7" r="0.68"/><circle cx="254.2" cy="113.8" r="0.44"/><circle cx="265.8" cy="89.2" r="0.50"/><circle cx="251.3" cy="91.9" r="0.41"/><circle cx="246.1" cy="89.9" r="0.51"/><circle cx="253.4" cy="101.2" r="0.52"/><circle cx="255.9" cy="89.5" r="0.56"/><circle cx="248.6" cy="86.8" r="0.50"/><circle cx="258.8" cy="93.5" r="0.47"/><circle cx="268.4" cy="90.6" r="0.64"/><circle cx="267.8" cy="96.8" r="0.48"/><circle cx="259.3" cy="80.9" r="0.50"/><circle cx="249.0" cy="100.2" r="0.55"/><circle cx="270.5" cy="96.4" r="0.48"/><circle cx="265.4" cy="92.1" r="0.62"/><circle cx="256.3" cy="90.4" r="0.43"/><circle cx="267.1" cy="97.4" r="0.50"/><circle cx="257.4" cy="92.7" r="0.53"/><circle cx="263.8" cy="97.3" r="0.48"/><circle cx="252.6" cy="107.0" r="0.65"/><circle cx="261.4" cy="95.1" r="0.51"/><circle cx="271.1" cy="102.2" r="0.53"/><circle cx="258.6" cy="98.8" r="0.54"/><circle cx="250.7" cy="90.5" r="0.65"/><circle cx="241.2" cy="103.5" r="0.47"/><circle cx="244.1" cy="99.8" r="0.65"/><circle cx="252.7" cy="88.1" r="0.68"/><circle cx="257.7" cy="96.9" r="0.48"/><circle cx="264.2" cy="107.4" r="0.45"/><circle cx="262.2" cy="101.2" r="0.64"/><circle cx="254.5" cy="100.0" r="0.49"/><circle cx="260.5" cy="91.8" r="0.47"/><circle cx="258.5" cy="94.6" r="0.42"/><circle cx="260.8" cy="97.8" r="0.58"/><circle cx="255.2" cy="89.8" r="0.68"/><circle cx="265.3" cy="83.1" r="0.66"/><circle cx="254.4" cy="105.9" r="0.58"/><circle cx="237.6" cy="90.1" r="0.53"/><circle cx="264.8" cy="83.4" r="0.69"/><circle cx="280.1" cy="76.9" r="0.60"/><circle cx="270.8" cy="105.9" r="0.69"/><circle cx="266.6" cy="93.4" r="0.61"/><circle cx="262.2" cy="88.7" r="0.61"/><circle cx="265.8" cy="87.2" r="0.61"/><circle cx="257.1" cy="102.0" r="0.44"/><circle cx="250.4" cy="92.5" r="0.48"/><circle cx="260.6" cy="85.6" r="0.42"/><circle cx="268.6" cy="97.4" r="0.68"/><circle cx="247.2" cy="94.7" r="0.70"/><circle cx="253.1" cy="90.4" r="0.58"/><circle cx="259.9" cy="90.0" r="0.45"/><circle cx="267.0" cy="90.1" r="0.44"/><circle cx="267.2" cy="94.7" r="0.53"/><circle cx="266.1" cy="91.2" r="0.52"/><circle cx="255.3" cy="86.9" r="0.46"/><circle cx="263.9" cy="101.6" r="0.43"/><circle cx="276.3" cy="104.0" r="0.59"/><circle cx="261.3" cy="93.5" r="0.64"/><circle cx="262.4" cy="94.8" r="0.42"/><circle cx="271.0" cy="101.6" r="0.49"/><circle cx="252.6" cy="90.2" r="0.49"/><circle cx="270.2" cy="97.2" r="0.56"/><circle cx="257.4" cy="103.3" r="0.58"/><circle cx="247.2" cy="116.0" r="0.52"/><circle cx="257.2" cy="109.5" r="0.66"/><circle cx="245.8" cy="112.8" r="0.52"/><circle cx="256.1" cy="117.5" r="0.49"/><circle cx="252.8" cy="120.6" r="0.63"/><circle cx="250.2" cy="132.3" r="0.65"/><circle cx="254.5" cy="122.2" r="0.66"/><circle cx="251.4" cy="116.7" r="0.45"/><circle cx="258.0" cy="125.7" r="0.46"/><circle cx="254.4" cy="124.7" r="0.54"/><circle cx="254.0" cy="109.3" r="0.69"/><circle cx="252.3" cy="108.1" r="0.59"/><circle cx="253.1" cy="115.5" r="0.59"/><circle cx="249.9" cy="116.3" r="0.50"/><circle cx="252.6" cy="122.2" r="0.70"/><circle cx="243.7" cy="109.4" r="0.45"/><circle cx="245.9" cy="117.1" r="0.57"/><circle cx="246.4" cy="132.1" r="0.60"/><circle cx="252.5" cy="122.2" r="0.64"/><circle cx="254.0" cy="110.2" r="0.64"/><circle cx="258.3" cy="112.5" r="0.52"/><circle cx="249.4" cy="123.0" r="0.48"/><circle cx="255.3" cy="117.8" r="0.69"/><circle cx="257.8" cy="118.6" r="0.57"/><circle cx="257.5" cy="108.2" r="0.48"/><circle cx="249.5" cy="114.6" r="0.44"/><circle cx="246.7" cy="127.7" r="0.64"/><circle cx="268.7" cy="118.2" r="0.65"/><circle cx="250.1" cy="123.1" r="0.57"/><circle cx="264.9" cy="109.7" r="0.52"/><circle cx="251.0" cy="116.7" r="0.60"/><circle cx="254.4" cy="108.7" r="0.69"/><circle cx="249.5" cy="139.7" r="0.57"/><circle cx="242.5" cy="109.8" r="0.64"/><circle cx="246.1" cy="138.3" r="0.66"/><circle cx="257.2" cy="131.5" r="0.63"/><circle cx="269.8" cy="122.8" r="0.55"/><circle cx="270.9" cy="123.7" r="0.45"/><circle cx="263.4" cy="118.4" r="0.61"/><circle cx="242.4" cy="128.2" r="0.65"/><circle cx="252.7" cy="117.4" r="0.69"/><circle cx="276.6" cy="120.3" r="0.45"/><circle cx="246.3" cy="129.4" r="0.43"/><circle cx="263.3" cy="110.0" r="0.59"/><circle cx="255.9" cy="128.8" r="0.65"/><circle cx="253.2" cy="141.5" r="0.42"/></g>
<path d="M239.27 124.00 L238.97 126.03 L238.47 128.01 L237.82 129.95 L237.00 131.87 L235.98 133.74 L234.68 135.51 L233.06 137.09 L231.14 138.37 L228.98 139.31 L226.68 139.88 L224.33 140.10 L222.00 140.04 L219.72 139.72 L217.52 139.17 L215.44 138.38 L213.52 137.34 L211.79 136.08 L210.29 134.63 L209.01 133.05 L207.90 131.39 L206.91 129.68 L205.99 127.90 L205.18 126.01 L204.55 124.00 L204.22 121.87 L204.32 119.70 L204.90 117.57 L205.97 115.59 L207.43 113.85 L209.19 112.37 L211.13 111.14 L213.18 110.13 L215.31 109.33 L217.50 108.75 L219.74 108.42 L222.00 108.37 L224.23 108.62 L226.39 109.13 L228.44 109.88 L230.40 110.79 L232.26 111.86 L234.02 113.08 L235.65 114.49 L237.08 116.10 L238.20 117.91 L238.94 119.88 L239.29 121.93 Z" fill="#888"/>
<path d="M234.58 124.50 L234.28 125.98 L233.79 127.40 L233.09 128.71 L232.21 129.90 L231.16 130.95 L230.01 131.84 L228.79 132.61 L227.53 133.28 L226.25 133.90 L224.91 134.47 L223.50 134.96 L222.00 135.29 L220.43 135.41 L218.85 135.27 L217.32 134.85 L215.90 134.18 L214.60 133.34 L213.43 132.36 L212.36 131.28 L211.39 130.12 L210.55 128.85 L209.88 127.48 L209.47 126.01 L209.34 124.50 L209.53 122.99 L209.99 121.55 L210.67 120.20 L211.53 118.96 L212.52 117.84 L213.64 116.84 L214.87 115.98 L216.21 115.31 L217.63 114.83 L219.09 114.55 L220.55 114.43 L222.00 114.42 L223.44 114.48 L224.90 114.58 L226.41 114.75 L227.96 115.03 L229.52 115.52 L231.00 116.25 L232.30 117.25 L233.35 118.50 L234.08 119.91 L234.51 121.43 L234.66 122.97 Z" fill="#606060"/>
<path d="M238.69 124.00 L238.44 125.96 L238.01 127.88 L237.42 129.77 L236.64 131.64 L235.66 133.47 L234.43 135.23 L232.91 136.84 L231.09 138.23 L229.03 139.33 L226.77 140.09 L224.40 140.50 L222.00 140.58 L219.62 140.36 L217.30 139.85 L215.09 139.07 L213.03 138.04 L211.16 136.76 L209.53 135.26 L208.16 133.59 L207.06 131.79 L206.22 129.91 L205.60 127.97 L205.19 126.00 L205.01 124.00 L205.07 121.99 L205.42 119.99 L206.07 118.04 L207.02 116.19 L208.26 114.47 L209.73 112.91 L211.40 111.52 L213.23 110.28 L215.22 109.21 L217.36 108.34 L219.63 107.72 L222.00 107.41 L224.41 107.45 L226.79 107.86 L229.04 108.64 L231.13 109.72 L232.99 111.06 L234.61 112.60 L235.99 114.30 L237.09 116.13 L237.92 118.04 L238.46 120.02 L238.70 122.01 Z" fill="none" stroke="#222" stroke-width="0.6"/>
<path d="M239.22 124.08 L238.76 126.07 L237.93 127.93 L236.84 129.61 L235.58 131.14 L234.24 132.53 L232.85 133.84 L231.40 135.09 L229.83 136.26 L228.11 137.30 L226.22 138.15 L224.19 138.74 L222.05 139.04 L219.87 139.05 L217.69 138.78 L215.55 138.25 L213.49 137.47 L211.56 136.43 L209.83 135.12 L208.35 133.57 L207.20 131.82 L206.40 129.94 L205.92 127.98 L205.72 126.02 L205.74 124.08 L205.94 122.16 L206.33 120.27 L206.95 118.43 L207.84 116.67 L209.03 115.06 L210.51 113.65 L212.21 112.50 L214.06 111.58 L216.00 110.88 L217.97 110.34 L219.99 109.93 L222.05 109.67 L224.16 109.59 L226.30 109.74 L228.43 110.17 L230.48 110.89 L232.40 111.89 L234.15 113.15 L235.71 114.61 L237.05 116.26 L238.12 118.07 L238.88 120.00 L239.27 122.03 Z" fill="none" stroke="#222" stroke-width="0.6"/>
<path d="M237.43 124.16 L237.00 125.93 L236.35 127.61 L235.55 129.19 L234.62 130.69 L233.57 132.11 L232.38 133.45 L231.03 134.67 L229.51 135.76 L227.84 136.68 L226.03 137.42 L224.11 137.97 L222.10 138.33 L220.02 138.46 L217.90 138.33 L215.80 137.89 L213.82 137.11 L212.04 136.00 L210.54 134.60 L209.36 132.99 L208.50 131.26 L207.90 129.47 L207.53 127.69 L207.34 125.91 L207.32 124.16 L207.49 122.42 L207.86 120.71 L208.47 119.06 L209.31 117.49 L210.36 116.02 L211.60 114.67 L213.00 113.45 L214.55 112.35 L216.25 111.40 L218.09 110.64 L220.05 110.12 L222.10 109.88 L224.17 109.95 L226.21 110.32 L228.16 110.94 L230.01 111.79 L231.73 112.82 L233.32 114.02 L234.74 115.40 L235.93 116.95 L236.83 118.65 L237.39 120.46 L237.58 122.32 Z" fill="none" stroke="#222" stroke-width="0.6"/>
<path d="M235.81 124.24 L235.52 125.83 L235.08 127.37 L234.55 128.88 L233.92 130.38 L233.16 131.87 L232.20 133.32 L230.99 134.65 L229.53 135.79 L227.84 136.65 L226.00 137.21 L224.08 137.47 L222.15 137.48 L220.25 137.27 L218.40 136.89 L216.61 136.33 L214.90 135.58 L213.33 134.63 L211.93 133.47 L210.75 132.15 L209.79 130.68 L209.06 129.14 L208.53 127.54 L208.18 125.90 L208.02 124.24 L208.08 122.57 L208.41 120.91 L209.03 119.33 L209.94 117.87 L211.08 116.56 L212.38 115.42 L213.80 114.40 L215.28 113.49 L216.83 112.65 L218.49 111.90 L220.26 111.30 L222.15 110.91 L224.10 110.83 L226.06 111.07 L227.93 111.64 L229.65 112.50 L231.20 113.58 L232.56 114.84 L233.71 116.22 L234.65 117.72 L235.34 119.30 L235.76 120.95 L235.91 122.60 Z" fill="none" stroke="#222" stroke-width="0.6"/>
<path d="M236.03 124.32 L236.02 125.96 L235.66 127.58 L234.99 129.10 L234.04 130.49 L232.89 131.73 L231.62 132.83 L230.26 133.81 L228.82 134.68 L227.29 135.41 L225.65 135.96 L223.94 136.27 L222.20 136.30 L220.49 136.04 L218.87 135.54 L217.37 134.86 L215.97 134.07 L214.66 133.19 L213.43 132.25 L212.26 131.21 L211.20 130.06 L210.29 128.78 L209.58 127.37 L209.08 125.88 L208.80 124.32 L208.74 122.72 L208.88 121.10 L209.26 119.48 L209.90 117.90 L210.84 116.45 L212.09 115.19 L213.60 114.20 L215.30 113.52 L217.08 113.14 L218.85 113.01 L220.56 113.06 L222.20 113.19 L223.79 113.40 L225.36 113.66 L226.91 114.04 L228.43 114.57 L229.89 115.27 L231.23 116.16 L232.44 117.22 L233.51 118.42 L234.43 119.75 L235.18 121.18 L235.73 122.71 Z" fill="none" stroke="#222" stroke-width="0.6"/>
<path d="M234.10 124.40 L234.37 125.84 L234.36 127.33 L234.02 128.80 L233.35 130.19 L232.40 131.43 L231.23 132.51 L229.91 133.42 L228.50 134.18 L227.01 134.79 L225.46 135.23 L223.86 135.48 L222.25 135.50 L220.66 135.30 L219.14 134.88 L217.71 134.30 L216.38 133.59 L215.13 132.79 L213.96 131.89 L212.90 130.88 L211.98 129.75 L211.27 128.51 L210.80 127.17 L210.58 125.79 L210.59 124.40 L210.75 123.03 L211.03 121.68 L211.39 120.34 L211.87 118.98 L212.49 117.64 L213.34 116.35 L214.42 115.19 L215.75 114.23 L217.27 113.53 L218.90 113.11 L220.58 112.95 L222.25 113.02 L223.87 113.28 L225.42 113.72 L226.86 114.34 L228.17 115.14 L229.32 116.08 L230.29 117.13 L231.11 118.26 L231.82 119.41 L232.46 120.58 L233.07 121.78 L233.63 123.05 Z" fill="none" stroke="#222" stroke-width="0.6"/>
<path d="M232.86 124.48 L232.80 125.73 L232.60 126.97 L232.28 128.21 L231.85 129.46 L231.27 130.70 L230.51 131.89 L229.52 132.98 L228.29 133.86 L226.88 134.47 L225.35 134.77 L223.80 134.79 L222.30 134.57 L220.88 134.20 L219.55 133.74 L218.29 133.22 L217.09 132.63 L215.94 131.96 L214.89 131.18 L213.95 130.27 L213.16 129.25 L212.51 128.14 L211.99 126.98 L211.59 125.75 L211.32 124.48 L211.22 123.16 L211.33 121.83 L211.71 120.52 L212.37 119.30 L213.28 118.22 L214.36 117.31 L215.56 116.55 L216.82 115.91 L218.11 115.35 L219.45 114.87 L220.84 114.49 L222.30 114.28 L223.79 114.29 L225.24 114.55 L226.61 115.07 L227.84 115.81 L228.92 116.68 L229.86 117.65 L230.68 118.67 L231.39 119.74 L232.00 120.85 L232.46 122.02 L232.75 123.24 Z" fill="none" stroke="#222" stroke-width="0.6"/>
<path d="M231.57 124.56 L231.59 125.66 L231.54 126.79 L231.37 127.94 L231.03 129.09 L230.48 130.20 L229.71 131.21 L228.73 132.07 L227.60 132.77 L226.36 133.30 L225.05 133.65 L223.70 133.83 L222.35 133.84 L221.02 133.67 L219.75 133.32 L218.58 132.79 L217.51 132.13 L216.57 131.37 L215.73 130.54 L214.96 129.68 L214.26 128.78 L213.62 127.83 L213.07 126.81 L212.67 125.71 L212.47 124.56 L212.49 123.39 L212.73 122.23 L213.17 121.12 L213.76 120.08 L214.48 119.10 L215.30 118.19 L216.23 117.36 L217.28 116.62 L218.44 116.02 L219.69 115.59 L221.01 115.36 L222.35 115.32 L223.68 115.46 L224.96 115.76 L226.19 116.19 L227.34 116.75 L228.40 117.44 L229.33 118.26 L230.09 119.19 L230.68 120.22 L231.08 121.29 L231.34 122.38 L231.49 123.47 Z" fill="none" stroke="#222" stroke-width="0.6"/>
<path d="M230.99 124.64 L231.01 125.66 L230.91 126.70 L230.66 127.73 L230.25 128.73 L229.66 129.67 L228.91 130.52 L228.01 131.24 L227.00 131.83 L225.91 132.29 L224.76 132.60 L223.58 132.76 L222.40 132.77 L221.24 132.60 L220.14 132.27 L219.12 131.80 L218.19 131.22 L217.36 130.57 L216.61 129.87 L215.91 129.14 L215.25 128.37 L214.64 127.54 L214.11 126.65 L213.72 125.67 L213.49 124.64 L213.45 123.58 L213.61 122.51 L213.95 121.48 L214.46 120.50 L215.12 119.59 L215.91 118.77 L216.82 118.07 L217.83 117.50 L218.93 117.08 L220.08 116.83 L221.25 116.74 L222.40 116.78 L223.52 116.94 L224.61 117.18 L225.67 117.52 L226.68 117.95 L227.63 118.48 L228.50 119.13 L229.25 119.89 L229.86 120.75 L230.32 121.67 L230.66 122.64 L230.87 123.63 Z" fill="none" stroke="#222" stroke-width="0.6"/>
<path d="M229.80 124.72 L229.71 125.58 L229.53 126.43 L229.24 127.26 L228.83 128.05 L228.32 128.79 L227.70 129.46 L227.00 130.08 L226.23 130.64 L225.39 131.14 L224.48 131.57 L223.50 131.91 L222.45 132.12 L221.37 132.16 L220.29 132.01 L219.27 131.67 L218.34 131.15 L217.55 130.49 L216.88 129.75 L216.34 128.96 L215.91 128.13 L215.58 127.29 L215.36 126.44 L215.25 125.58 L215.25 124.72 L215.34 123.87 L215.53 123.04 L215.79 122.23 L216.12 121.42 L216.54 120.62 L217.06 119.85 L217.70 119.12 L218.47 118.49 L219.36 117.99 L220.35 117.64 L221.39 117.46 L222.45 117.44 L223.49 117.56 L224.51 117.78 L225.48 118.11 L226.41 118.53 L227.26 119.06 L228.01 119.69 L228.65 120.42 L229.14 121.23 L229.48 122.09 L229.70 122.97 L229.80 123.85 Z" fill="none" stroke="#222" stroke-width="0.6"/>
<path d="M228.95 124.80 L229.04 125.58 L228.99 126.37 L228.80 127.16 L228.44 127.90 L227.94 128.57 L227.33 129.16 L226.63 129.67 L225.88 130.09 L225.09 130.44 L224.26 130.72 L223.39 130.90 L222.50 130.97 L221.61 130.91 L220.75 130.71 L219.94 130.38 L219.21 129.94 L218.56 129.43 L217.99 128.87 L217.49 128.27 L217.06 127.64 L216.71 126.97 L216.44 126.27 L216.29 125.54 L216.23 124.80 L216.26 124.06 L216.36 123.31 L216.53 122.57 L216.78 121.82 L217.13 121.07 L217.59 120.36 L218.18 119.72 L218.91 119.19 L219.75 118.81 L220.66 118.59 L221.59 118.54 L222.50 118.62 L223.37 118.81 L224.20 119.08 L224.97 119.42 L225.68 119.82 L226.33 120.29 L226.92 120.81 L227.42 121.39 L227.85 122.01 L228.21 122.66 L228.52 123.34 L228.77 124.05 Z" fill="none" stroke="#222" stroke-width="0.6"/>
<path d="M228.21 124.88 L228.12 125.54 L227.92 126.18 L227.61 126.77 L227.20 127.31 L226.72 127.77 L226.19 128.17 L225.65 128.53 L225.09 128.85 L224.51 129.15 L223.90 129.43 L223.25 129.67 L222.55 129.84 L221.82 129.90 L221.08 129.85 L220.35 129.68 L219.66 129.39 L219.04 129.02 L218.48 128.56 L217.99 128.04 L217.59 127.47 L217.28 126.85 L217.09 126.20 L217.02 125.54 L217.06 124.88 L217.20 124.24 L217.41 123.64 L217.67 123.05 L217.98 122.50 L218.34 121.96 L218.76 121.46 L219.26 121.01 L219.83 120.63 L220.47 120.34 L221.15 120.15 L221.85 120.05 L222.55 120.03 L223.25 120.06 L223.95 120.15 L224.65 120.29 L225.34 120.51 L226.00 120.82 L226.60 121.22 L227.12 121.71 L227.54 122.28 L227.86 122.89 L228.07 123.54 L228.19 124.21 Z" fill="none" stroke="#222" stroke-width="0.6"/>
<path d="M226.92 124.96 L226.83 125.46 L226.73 125.96 L226.58 126.45 L226.37 126.93 L226.08 127.37 L225.70 127.76 L225.25 128.08 L224.75 128.33 L224.23 128.51 L223.70 128.66 L223.15 128.76 L222.60 128.82 L222.04 128.82 L221.48 128.75 L220.93 128.59 L220.42 128.37 L219.95 128.08 L219.51 127.75 L219.09 127.39 L218.70 126.99 L218.34 126.55 L218.04 126.06 L217.84 125.53 L217.78 124.96 L217.88 124.40 L218.11 123.87 L218.46 123.41 L218.86 123.01 L219.29 122.66 L219.72 122.36 L220.15 122.07 L220.58 121.80 L221.05 121.57 L221.54 121.38 L222.06 121.24 L222.60 121.17 L223.16 121.14 L223.72 121.17 L224.30 121.24 L224.89 121.38 L225.45 121.60 L225.97 121.91 L226.41 122.32 L226.72 122.81 L226.91 123.35 L226.99 123.90 L226.98 124.44 Z" fill="none" stroke="#222" stroke-width="0.6"/>
<path d="M225.89 125.04 L225.84 125.42 L225.76 125.79 L225.64 126.16 L225.48 126.52 L225.27 126.86 L225.00 127.16 L224.68 127.43 L224.32 127.65 L223.93 127.83 L223.52 127.98 L223.09 128.08 L222.65 128.14 L222.20 128.14 L221.75 128.07 L221.33 127.91 L220.96 127.68 L220.65 127.39 L220.40 127.07 L220.19 126.74 L220.01 126.42 L219.83 126.09 L219.67 125.76 L219.53 125.41 L219.43 125.04 L219.39 124.65 L219.42 124.26 L219.53 123.87 L219.71 123.51 L219.94 123.16 L220.22 122.85 L220.55 122.57 L220.92 122.33 L221.33 122.15 L221.76 122.05 L222.21 122.02 L222.65 122.06 L223.07 122.15 L223.47 122.27 L223.85 122.41 L224.23 122.57 L224.60 122.74 L224.96 122.96 L225.28 123.22 L225.55 123.53 L225.74 123.88 L225.86 124.26 L225.90 124.65 Z" fill="none" stroke="#222" stroke-width="0.6"/>
<path d="M224.94 125.12 L224.89 125.38 L224.81 125.63 L224.70 125.87 L224.57 126.09 L224.40 126.30 L224.21 126.48 L223.99 126.64 L223.75 126.76 L223.50 126.86 L223.24 126.95 L222.98 127.03 L222.70 127.09 L222.41 127.13 L222.10 127.14 L221.80 127.08 L221.52 126.97 L221.27 126.80 L221.07 126.59 L220.91 126.36 L220.80 126.11 L220.71 125.87 L220.64 125.62 L220.59 125.37 L220.57 125.12 L220.58 124.87 L220.63 124.62 L220.72 124.38 L220.84 124.15 L220.99 123.94 L221.17 123.73 L221.36 123.54 L221.58 123.37 L221.84 123.23 L222.11 123.14 L222.40 123.09 L222.70 123.10 L222.99 123.15 L223.26 123.23 L223.52 123.34 L223.77 123.45 L224.01 123.58 L224.25 123.72 L224.47 123.89 L224.67 124.09 L224.82 124.33 L224.91 124.58 L224.95 124.85 Z" fill="none" stroke="#222" stroke-width="0.6"/>
<path d="M223.85 125.20 L223.83 125.33 L223.79 125.45 L223.73 125.57 L223.66 125.67 L223.57 125.77 L223.48 125.86 L223.38 125.94 L223.28 126.03 L223.17 126.11 L223.04 126.18 L222.90 126.23 L222.75 126.26 L222.60 126.25 L222.45 126.22 L222.31 126.16 L222.19 126.08 L222.07 126.00 L221.97 125.90 L221.88 125.80 L221.81 125.69 L221.75 125.58 L221.71 125.45 L221.69 125.33 L221.68 125.20 L221.69 125.07 L221.72 124.95 L221.75 124.83 L221.80 124.71 L221.87 124.59 L221.96 124.48 L222.07 124.39 L222.19 124.33 L222.33 124.28 L222.47 124.25 L222.61 124.24 L222.75 124.23 L222.89 124.24 L223.03 124.25 L223.18 124.27 L223.32 124.32 L223.45 124.38 L223.56 124.47 L223.66 124.57 L223.73 124.69 L223.79 124.81 L223.82 124.94 L223.84 125.07 Z" fill="none" stroke="#222" stroke-width="0.6"/>
<ellipse cx="222.2" cy="125.2" rx="2.4" ry="2.0" fill="#f2f2f2"/>
<path d="M199.5 113 C203.0 110, 206.0 107, 208.0 105 C212.0 100, 218.0 96.5, 226.0 95 C232.0 94, 237.0 95, 239.0 99 C240.5 103, 240.0 115, 240.0 125 C240.0 133, 241.0 139, 243.0 142" fill="none" stroke="#262626" stroke-width="0.75"/>
<path d="M199.5 116 C205.0 113, 211.0 109, 214.0 106.7 C218.0 103, 224.0 101.5, 229.0 101.5 C234.0 101.5, 237.0 103, 237.5 106 C238.10000000000002 110, 238.3 118, 238.3 126" fill="none" stroke="#262626" stroke-width="0.75"/>
<path d="M199.5 111.5 L204.3 115 L206.8 119 M199.5 136 L204.3 133 L206.8 129 M199.5 138 C203.3 138.3, 208.3 139, 212.3 139.6 M199.5 109.5 C203.3 109, 207.3 108, 210.3 107" fill="none" stroke="#262626" stroke-width="0.7"/>
<circle cx="259.8" cy="95.7" r="2.3" fill="none" stroke="#333" stroke-width="0.8"/>
<circle cx="259.8" cy="95.7" r="4.2" fill="none" stroke="#999" stroke-width="0.5"/>
<path d="M262.43 52.70 L262.34 53.95 L262.06 55.20 L261.58 56.43 L260.87 57.63 L259.89 58.76 L258.64 59.78 L257.15 60.66 L255.47 61.38 L253.65 61.93 L251.74 62.31 L249.78 62.52 L247.80 62.57 L245.83 62.45 L243.92 62.16 L242.10 61.69 L240.41 61.07 L238.86 60.31 L237.47 59.45 L236.22 58.51 L235.11 57.49 L234.14 56.40 L233.36 55.23 L232.82 53.99 L232.57 52.70 L232.65 51.40 L233.05 50.12 L233.76 48.90 L234.72 47.77 L235.89 46.73 L237.22 45.79 L238.69 44.95 L240.31 44.22 L242.05 43.63 L243.91 43.21 L245.84 42.95 L247.80 42.88 L249.76 42.99 L251.68 43.25 L253.54 43.65 L255.31 44.20 L256.97 44.89 L258.47 45.73 L259.76 46.70 L260.80 47.79 L261.57 48.97 L262.08 50.20 L262.36 51.45 Z" fill="none" stroke="#222" stroke-width="0.7"/>
<path d="M261.77 52.70 L261.62 53.84 L261.28 54.96 L260.71 56.05 L259.94 57.06 L258.96 58.00 L257.81 58.84 L256.52 59.58 L255.12 60.22 L253.61 60.77 L252.02 61.20 L250.33 61.49 L248.60 61.60 L246.86 61.53 L245.16 61.26 L243.55 60.83 L242.06 60.25 L240.69 59.57 L239.43 58.81 L238.28 57.98 L237.24 57.07 L236.35 56.08 L235.66 55.01 L235.23 53.87 L235.09 52.70 L235.23 51.53 L235.63 50.38 L236.26 49.29 L237.09 48.27 L238.10 47.33 L239.27 46.48 L240.60 45.75 L242.07 45.16 L243.64 44.71 L245.27 44.41 L246.93 44.25 L248.60 44.19 L250.27 44.23 L251.95 44.36 L253.63 44.61 L255.27 45.00 L256.83 45.55 L258.23 46.28 L259.42 47.16 L260.36 48.17 L261.05 49.26 L261.49 50.40 L261.73 51.55 Z" fill="none" stroke="#222" stroke-width="0.6"/>
<path d="M260.56 52.70 L260.51 53.71 L260.32 54.72 L259.95 55.71 L259.39 56.68 L258.62 57.58 L257.68 58.41 L256.57 59.15 L255.34 59.79 L253.98 60.33 L252.52 60.74 L250.98 60.99 L249.40 61.06 L247.83 60.93 L246.33 60.61 L244.94 60.13 L243.69 59.53 L242.56 58.85 L241.54 58.12 L240.61 57.35 L239.76 56.54 L239.02 55.66 L238.43 54.73 L238.03 53.73 L237.86 52.70 L237.91 51.66 L238.18 50.63 L238.64 49.63 L239.27 48.67 L240.07 47.76 L241.04 46.94 L242.18 46.21 L243.47 45.62 L244.88 45.18 L246.36 44.89 L247.88 44.74 L249.40 44.72 L250.91 44.79 L252.40 44.97 L253.87 45.27 L255.27 45.69 L256.57 46.25 L257.72 46.96 L258.67 47.80 L259.40 48.72 L259.92 49.69 L260.27 50.69 L260.47 51.69 Z" fill="none" stroke="#222" stroke-width="0.6"/>
<defs><radialGradient id="g12" cx="0.5" cy="0.5" r="0.5"><stop offset="0" stop-color="#e0e0e0"/><stop offset="0.25" stop-color="#aaa"/><stop offset="0.55" stop-color="#888"/><stop offset="0.85" stop-color="#999"/><stop offset="1" stop-color="#bbb"/></radialGradient></defs>
<ellipse cx="251.3" cy="52.5" rx="9.6" ry="8.2" fill="url(#g12)"/>
<path d="M260.95 52.50 L260.81 53.57 L260.52 54.61 L260.11 55.62 L259.57 56.58 L258.90 57.48 L258.08 58.29 L257.13 58.99 L256.07 59.56 L254.93 59.98 L253.73 60.25 L252.52 60.41 L251.30 60.45 L250.08 60.41 L248.87 60.26 L247.66 60.00 L246.49 59.62 L245.38 59.09 L244.37 58.42 L243.49 57.62 L242.75 56.72 L242.17 55.73 L241.75 54.69 L241.51 53.60 L241.44 52.50 L241.57 51.41 L241.90 50.35 L242.41 49.35 L243.08 48.45 L243.88 47.64 L244.76 46.91 L245.70 46.27 L246.70 45.70 L247.76 45.19 L248.88 44.78 L250.06 44.47 L251.30 44.31 L252.56 44.31 L253.81 44.49 L255.02 44.82 L256.17 45.30 L257.23 45.90 L258.20 46.61 L259.06 47.42 L259.78 48.32 L260.34 49.30 L260.72 50.34 L260.92 51.42 Z" fill="none" stroke="#222" stroke-width="0.5"/>
<path d="M259.46 52.50 L259.42 53.41 L259.28 54.31 L259.04 55.22 L258.68 56.11 L258.16 56.96 L257.47 57.73 L256.64 58.40 L255.68 58.93 L254.64 59.33 L253.54 59.59 L252.42 59.73 L251.30 59.76 L250.18 59.68 L249.09 59.49 L248.03 59.18 L247.04 58.75 L246.13 58.20 L245.33 57.56 L244.63 56.83 L244.04 56.05 L243.56 55.22 L243.19 54.34 L242.95 53.43 L242.85 52.50 L242.92 51.57 L243.16 50.65 L243.54 49.78 L244.06 48.96 L244.69 48.20 L245.40 47.50 L246.18 46.85 L247.05 46.26 L248.00 45.76 L249.04 45.37 L250.15 45.12 L251.30 45.03 L252.45 45.10 L253.57 45.34 L254.62 45.71 L255.60 46.19 L256.50 46.76 L257.29 47.42 L257.98 48.16 L258.53 48.96 L258.96 49.81 L259.24 50.70 L259.40 51.60 Z" fill="none" stroke="#222" stroke-width="0.5"/>
<path d="M258.86 52.50 L258.68 53.33 L258.39 54.12 L258.00 54.86 L257.52 55.56 L256.95 56.19 L256.30 56.76 L255.58 57.25 L254.81 57.68 L253.99 58.04 L253.14 58.33 L252.24 58.57 L251.30 58.73 L250.33 58.80 L249.34 58.74 L248.36 58.54 L247.44 58.19 L246.60 57.71 L245.88 57.12 L245.26 56.44 L244.76 55.72 L244.36 54.95 L244.06 54.15 L243.88 53.33 L243.83 52.50 L243.92 51.67 L244.15 50.87 L244.52 50.11 L245.00 49.40 L245.57 48.76 L246.21 48.17 L246.92 47.64 L247.70 47.19 L248.54 46.82 L249.43 46.55 L250.35 46.39 L251.30 46.33 L252.25 46.38 L253.18 46.52 L254.10 46.74 L255.01 47.03 L255.89 47.41 L256.72 47.89 L257.46 48.48 L258.07 49.17 L258.53 49.95 L258.81 50.79 L258.91 51.65 Z" fill="none" stroke="#222" stroke-width="0.5"/>
<path d="M257.58 52.50 L257.57 53.21 L257.50 53.92 L257.34 54.65 L257.06 55.35 L256.63 56.01 L256.04 56.56 L255.33 57.00 L254.53 57.29 L253.70 57.47 L252.88 57.55 L252.08 57.57 L251.30 57.55 L250.53 57.49 L249.78 57.38 L249.03 57.19 L248.31 56.93 L247.63 56.60 L246.99 56.19 L246.39 55.73 L245.83 55.21 L245.31 54.63 L244.88 53.97 L244.57 53.26 L244.44 52.50 L244.51 51.73 L244.78 51.00 L245.22 50.34 L245.76 49.76 L246.37 49.25 L246.99 48.80 L247.62 48.39 L248.28 48.01 L248.97 47.68 L249.71 47.42 L250.50 47.26 L251.30 47.21 L252.10 47.27 L252.89 47.42 L253.65 47.63 L254.39 47.91 L255.10 48.26 L255.76 48.68 L256.34 49.18 L256.82 49.77 L257.17 50.42 L257.40 51.10 L257.53 51.80 Z" fill="none" stroke="#222" stroke-width="0.5"/>
<path d="M256.61 52.50 L256.58 53.10 L256.45 53.69 L256.23 54.27 L255.94 54.82 L255.57 55.33 L255.11 55.80 L254.58 56.20 L253.98 56.51 L253.33 56.74 L252.66 56.88 L251.98 56.95 L251.30 56.96 L250.63 56.92 L249.96 56.81 L249.32 56.64 L248.71 56.39 L248.15 56.05 L247.68 55.63 L247.29 55.16 L246.99 54.65 L246.75 54.13 L246.55 53.60 L246.40 53.06 L246.28 52.50 L246.21 51.92 L246.24 51.33 L246.37 50.73 L246.61 50.16 L246.97 49.63 L247.43 49.15 L247.96 48.73 L248.56 48.39 L249.20 48.12 L249.89 47.94 L250.60 47.87 L251.30 47.90 L251.98 48.04 L252.61 48.26 L253.19 48.55 L253.72 48.87 L254.22 49.21 L254.70 49.56 L255.17 49.93 L255.61 50.34 L256.01 50.81 L256.32 51.34 L256.52 51.91 Z" fill="none" stroke="#222" stroke-width="0.5"/>
<path d="M255.26 52.50 L255.30 52.96 L255.27 53.43 L255.15 53.90 L254.94 54.34 L254.64 54.75 L254.29 55.12 L253.88 55.45 L253.42 55.73 L252.93 55.95 L252.40 56.10 L251.85 56.17 L251.30 56.15 L250.77 56.05 L250.27 55.88 L249.80 55.67 L249.36 55.45 L248.93 55.21 L248.51 54.95 L248.11 54.65 L247.74 54.31 L247.43 53.91 L247.22 53.46 L247.12 52.98 L247.12 52.50 L247.20 52.03 L247.34 51.57 L247.53 51.13 L247.77 50.71 L248.06 50.32 L248.40 49.96 L248.80 49.64 L249.25 49.39 L249.74 49.19 L250.25 49.05 L250.77 48.95 L251.30 48.90 L251.84 48.88 L252.39 48.93 L252.93 49.05 L253.43 49.27 L253.87 49.56 L254.23 49.93 L254.51 50.34 L254.72 50.77 L254.89 51.19 L255.04 51.62 L255.16 52.05 Z" fill="none" stroke="#222" stroke-width="0.5"/>
<path d="M254.21 52.50 L254.21 52.85 L254.16 53.19 L254.06 53.53 L253.91 53.85 L253.71 54.16 L253.47 54.45 L253.18 54.71 L252.86 54.93 L252.49 55.09 L252.11 55.21 L251.70 55.26 L251.30 55.27 L250.90 55.23 L250.51 55.14 L250.14 55.02 L249.79 54.85 L249.47 54.65 L249.18 54.41 L248.94 54.13 L248.75 53.82 L248.62 53.50 L248.53 53.17 L248.48 52.83 L248.46 52.50 L248.47 52.16 L248.51 51.83 L248.59 51.49 L248.73 51.16 L248.91 50.85 L249.14 50.56 L249.42 50.30 L249.74 50.08 L250.10 49.89 L250.48 49.76 L250.89 49.67 L251.30 49.65 L251.71 49.69 L252.11 49.79 L252.47 49.96 L252.80 50.16 L253.09 50.40 L253.34 50.66 L253.56 50.94 L253.76 51.22 L253.93 51.52 L254.06 51.83 L254.16 52.16 Z" fill="none" stroke="#222" stroke-width="0.5"/>
<path d="M199.5 140.3 C211.3 140.0, 231.3 140.3, 240.3 140.8 C245.3 141.5, 249.3 143, 254.3 145 L199.5 145 Z" fill="#1c1c1c"/>
<path d="M201.5 141.5 L236.3 141.8" stroke="#555" stroke-width="0.6"/>
<line x1="199.50" y1="21.60" x2="323.00" y2="21.60" stroke="#b5b5b5" stroke-width="1" />
<line x1="323.00" y1="21.60" x2="323.00" y2="144.80" stroke="#a0a0a0" stroke-width="1" />
<line x1="199.50" y1="21.10" x2="199.50" y2="145.40" stroke="#151515" stroke-width="1.5" />
<line x1="198.90" y1="144.80" x2="323.40" y2="144.80" stroke="#151515" stroke-width="1.5" />
<line x1="241.60" y1="21.60" x2="241.60" y2="144.80" stroke="#1a1a1a" stroke-width="1.3" />
<line x1="199.50" y1="107.10" x2="323.00" y2="107.10" stroke="#1a1a1a" stroke-width="1.5" />
<line x1="196.70" y1="48.80" x2="199.50" y2="48.80" stroke="#333" stroke-width="0.8" />
<line x1="196.70" y1="77.50" x2="199.50" y2="77.50" stroke="#333" stroke-width="0.8" />
<line x1="196.70" y1="106.20" x2="199.50" y2="106.20" stroke="#333" stroke-width="0.8" />
<line x1="197.90" y1="40.16" x2="199.50" y2="40.16" stroke="#555" stroke-width="0.6" />
<line x1="197.90" y1="35.11" x2="199.50" y2="35.11" stroke="#555" stroke-width="0.6" />
<line x1="197.90" y1="31.52" x2="199.50" y2="31.52" stroke="#555" stroke-width="0.6" />
<line x1="197.90" y1="28.74" x2="199.50" y2="28.74" stroke="#555" stroke-width="0.6" />
<line x1="197.90" y1="26.47" x2="199.50" y2="26.47" stroke="#555" stroke-width="0.6" />
<line x1="197.90" y1="24.55" x2="199.50" y2="24.55" stroke="#555" stroke-width="0.6" />
<line x1="197.90" y1="22.88" x2="199.50" y2="22.88" stroke="#555" stroke-width="0.6" />
<line x1="197.90" y1="68.86" x2="199.50" y2="68.86" stroke="#555" stroke-width="0.6" />
<line x1="197.90" y1="63.81" x2="199.50" y2="63.81" stroke="#555" stroke-width="0.6" />
<line x1="197.90" y1="60.22" x2="199.50" y2="60.22" stroke="#555" stroke-width="0.6" />
<line x1="197.90" y1="57.44" x2="199.50" y2="57.44" stroke="#555" stroke-width="0.6" />
<line x1="197.90" y1="55.17" x2="199.50" y2="55.17" stroke="#555" stroke-width="0.6" />
<line x1="197.90" y1="53.25" x2="199.50" y2="53.25" stroke="#555" stroke-width="0.6" />
<line x1="197.90" y1="51.58" x2="199.50" y2="51.58" stroke="#555" stroke-width="0.6" />
<line x1="197.90" y1="50.11" x2="199.50" y2="50.11" stroke="#555" stroke-width="0.6" />
<line x1="197.90" y1="97.56" x2="199.50" y2="97.56" stroke="#555" stroke-width="0.6" />
<line x1="197.90" y1="92.51" x2="199.50" y2="92.51" stroke="#555" stroke-width="0.6" />
<line x1="197.90" y1="88.92" x2="199.50" y2="88.92" stroke="#555" stroke-width="0.6" />
<line x1="197.90" y1="86.14" x2="199.50" y2="86.14" stroke="#555" stroke-width="0.6" />
<line x1="197.90" y1="83.87" x2="199.50" y2="83.87" stroke="#555" stroke-width="0.6" />
<line x1="197.90" y1="81.95" x2="199.50" y2="81.95" stroke="#555" stroke-width="0.6" />
<line x1="197.90" y1="80.28" x2="199.50" y2="80.28" stroke="#555" stroke-width="0.6" />
<line x1="197.90" y1="78.81" x2="199.50" y2="78.81" stroke="#555" stroke-width="0.6" />
<line x1="196.70" y1="134.70" x2="199.50" y2="134.70" stroke="#333" stroke-width="0.8" />
<line x1="197.90" y1="138.50" x2="199.50" y2="138.50" stroke="#555" stroke-width="0.6" />
<line x1="197.90" y1="141.50" x2="199.50" y2="141.50" stroke="#555" stroke-width="0.6" />
<line x1="197.90" y1="127.00" x2="199.50" y2="127.00" stroke="#555" stroke-width="0.6" />
<line x1="197.90" y1="122.00" x2="199.50" y2="122.00" stroke="#555" stroke-width="0.6" />
<line x1="197.90" y1="118.00" x2="199.50" y2="118.00" stroke="#555" stroke-width="0.6" />
<line x1="197.90" y1="113.00" x2="199.50" y2="113.00" stroke="#555" stroke-width="0.6" />
<line x1="206.30" y1="144.80" x2="206.30" y2="147.40" stroke="#333" stroke-width="0.8" />
<line x1="240.50" y1="144.80" x2="240.50" y2="147.40" stroke="#333" stroke-width="0.8" />
<line x1="267.50" y1="144.80" x2="267.50" y2="147.40" stroke="#333" stroke-width="0.8" />
<line x1="294.50" y1="144.80" x2="294.50" y2="147.40" stroke="#333" stroke-width="0.8" />
<line x1="248.63" y1="144.80" x2="248.63" y2="147.00" stroke="#444" stroke-width="0.7" />
<line x1="253.38" y1="144.80" x2="253.38" y2="147.00" stroke="#444" stroke-width="0.7" />
<line x1="256.76" y1="144.80" x2="256.76" y2="147.00" stroke="#444" stroke-width="0.7" />
<line x1="259.37" y1="144.80" x2="259.37" y2="147.00" stroke="#444" stroke-width="0.7" />
<line x1="261.51" y1="144.80" x2="261.51" y2="147.00" stroke="#444" stroke-width="0.7" />
<line x1="263.32" y1="144.80" x2="263.32" y2="147.00" stroke="#444" stroke-width="0.7" />
<line x1="264.88" y1="144.80" x2="264.88" y2="147.00" stroke="#444" stroke-width="0.7" />
<line x1="266.26" y1="144.80" x2="266.26" y2="147.00" stroke="#444" stroke-width="0.7" />
<line x1="275.63" y1="144.80" x2="275.63" y2="147.00" stroke="#444" stroke-width="0.7" />
<line x1="280.38" y1="144.80" x2="280.38" y2="147.00" stroke="#444" stroke-width="0.7" />
<line x1="283.76" y1="144.80" x2="283.76" y2="147.00" stroke="#444" stroke-width="0.7" />
<line x1="286.37" y1="144.80" x2="286.37" y2="147.00" stroke="#444" stroke-width="0.7" />
<line x1="288.51" y1="144.80" x2="288.51" y2="147.00" stroke="#444" stroke-width="0.7" />
<line x1="290.32" y1="144.80" x2="290.32" y2="147.00" stroke="#444" stroke-width="0.7" />
<line x1="291.88" y1="144.80" x2="291.88" y2="147.00" stroke="#444" stroke-width="0.7" />
<line x1="293.26" y1="144.80" x2="293.26" y2="147.00" stroke="#444" stroke-width="0.7" />
<line x1="302.63" y1="144.80" x2="302.63" y2="147.00" stroke="#444" stroke-width="0.7" />
<line x1="307.38" y1="144.80" x2="307.38" y2="147.00" stroke="#444" stroke-width="0.7" />
<line x1="310.76" y1="144.80" x2="310.76" y2="147.00" stroke="#444" stroke-width="0.7" />
<line x1="313.37" y1="144.80" x2="313.37" y2="147.00" stroke="#444" stroke-width="0.7" />
<line x1="315.51" y1="144.80" x2="315.51" y2="147.00" stroke="#444" stroke-width="0.7" />
<line x1="317.32" y1="144.80" x2="317.32" y2="147.00" stroke="#444" stroke-width="0.7" />
<line x1="318.88" y1="144.80" x2="318.88" y2="147.00" stroke="#444" stroke-width="0.7" />
<line x1="320.26" y1="144.80" x2="320.26" y2="147.00" stroke="#444" stroke-width="0.7" />
<line x1="210.30" y1="144.80" x2="210.30" y2="147.00" stroke="#444" stroke-width="0.7" />
<line x1="214.30" y1="144.80" x2="214.30" y2="147.00" stroke="#444" stroke-width="0.7" />
<line x1="218.30" y1="144.80" x2="218.30" y2="147.00" stroke="#444" stroke-width="0.7" />
<line x1="203.30" y1="144.80" x2="203.30" y2="147.00" stroke="#444" stroke-width="0.7" />
<line x1="222.30" y1="144.80" x2="222.30" y2="147.00" stroke="#444" stroke-width="0.7" />
<line x1="226.30" y1="144.80" x2="226.30" y2="147.00" stroke="#444" stroke-width="0.7" />
<line x1="230.30" y1="144.80" x2="230.30" y2="147.00" stroke="#444" stroke-width="0.7" />
<line x1="234.30" y1="144.80" x2="234.30" y2="147.00" stroke="#444" stroke-width="0.7" />
<text transform="translate(194.10,51.70) scale(0.9,1)" font-size="8.3" text-anchor="end" font-weight="normal" fill="#111">10<tspan font-size="5.8" dy="-3.2">3</tspan></text>
<text transform="translate(194.10,80.40) scale(0.9,1)" font-size="8.3" text-anchor="end" font-weight="normal" fill="#111">10<tspan font-size="5.8" dy="-3.2">2</tspan></text>
<text transform="translate(194.10,109.10) scale(0.9,1)" font-size="8.3" text-anchor="end" font-weight="normal" fill="#111">10<tspan font-size="5.8" dy="-3.2">1</tspan></text>
<text transform="translate(191.00,137.60) scale(0.9,1)" font-size="8.3" text-anchor="end" font-weight="normal" fill="#111">0</text>
<text transform="translate(206.50,157.90) scale(0.9,1)" font-size="8.3" text-anchor="middle" font-weight="normal" fill="#111">0</text>
<text transform="translate(240.10,157.70) scale(0.9,1)" font-size="8.3" text-anchor="middle" font-weight="normal" fill="#111">10<tspan font-size="5.8" dy="-3.2">1</tspan></text>
<text transform="translate(267.10,157.70) scale(0.9,1)" font-size="8.3" text-anchor="middle" font-weight="normal" fill="#111">10<tspan font-size="5.8" dy="-3.2">2</tspan></text>
<text transform="translate(294.10,157.70) scale(0.9,1)" font-size="8.3" text-anchor="middle" font-weight="normal" fill="#111">10<tspan font-size="5.8" dy="-3.2">3</tspan></text>
<text transform="translate(168.30,33.30) scale(0.95,1)" font-size="8.2" text-anchor="end" font-weight="normal" fill="#111">20.2</text>
<text transform="translate(314.60,33.30) scale(0.95,1)" font-size="8.2" text-anchor="end" font-weight="normal" fill="#111">11.2</text>
<text transform="translate(7.80,15.70) scale(0.92,1)" font-size="12" text-anchor="start" font-weight="bold" fill="#000">A</text>
<line x1="31.70" y1="140.00" x2="31.70" y2="165.90" stroke="#444" stroke-width="1.2" />
<line x1="31.10" y1="165.90" x2="58.00" y2="165.90" stroke="#444" stroke-width="1.2" />
<path d="M31.7 133.2 L27.0 143.2 L31.7 140.9 L36.4 143.2 Z" fill="#111"/>
<path d="M65.4 165.9 L54.8 161.3 L57.3 165.9 L54.8 170.5 Z" fill="#111"/>
<text transform="translate(24.4,152.5) rotate(-90)" font-size="10.8" text-anchor="middle" fill="#111" textLength="25" lengthAdjust="spacingAndGlyphs">CD14</text>
<text x="33.1" y="182.4" font-size="10.4" fill="#111" textLength="28" lengthAdjust="spacingAndGlyphs">IL-17A</text>
<text transform="translate(355.60,15.70) scale(0.92,1)" font-size="12" text-anchor="start" font-weight="bold" fill="#000">B</text>
<path d="M375.5 145.0 L376.0 143.2 L380.5 137.8 L383.5 133.8 L385.6 130.5 L388.2 125.5 L390.2 120.0 L391.3 114.0 L392.6 110.0 L393.8 105.0 L395.0 100.0 L396.5 92.0 L397.5 85.0 L398.0 78.0 L400.3 75.0 L400.6 70.0 L401.5 62.0 L402.5 56.0 L403.3 50.0 L404.3 44.0 L404.8 40.0 L405.4 36.0 L405.9 37.6 L406.6 33.0 L407.3 38.0 L408.0 30.0 L408.7 25.9 L409.4 31.0 L410.0 38.0 L410.6 34.0 L411.3 36.1 L411.8 40.0 L412.8 50.0 L413.6 62.0 L414.3 70.0 L415.2 75.0 L416.0 86.0 L417.0 100.0 L417.9 110.0 L419.3 120.0 L420.2 125.0 L421.4 130.0 L423.0 134.5 L424.9 138.0 L427.0 141.0 L430.0 143.2 L433.0 144.5 L435.0 145.0 Z" fill="#c0c0c0"/>
<path d="M375.2 145.0 L375.2 133.0 L375.8 133.5 L376.3 141.0 L377.0 143.6 L380.0 143.3 L383.0 142.8 L385.0 142.1 L387.0 141.2 L389.0 140.9 L390.0 140.2 L391.0 140.7 L393.0 140.1 L395.0 139.4 L396.0 139.9 L398.0 139.2 L399.0 139.8 L401.0 139.0 L403.0 139.6 L405.0 139.3 L407.0 139.8 L409.0 140.6 L411.0 141.3 L413.0 141.2 L415.0 140.6 L416.5 139.8 L417.5 139.2 L418.5 138.2 L420.2 136.2 L421.8 132.5 L423.1 128.9 L424.3 123.0 L425.3 117.2 L426.1 109.0 L426.8 101.9 L427.3 93.0 L427.9 86.0 L428.3 73.3 L429.1 61.3 L429.4 56.5 L430.1 54.5 L430.4 52.0 L430.8 47.6 L431.3 39.1 L432.0 32.3 L432.6 29.4 L433.1 28.5 L433.8 28.8 L435.1 30.5 L436.0 35.0 L436.5 39.1 L437.1 47.6 L438.2 56.2 L438.6 63.0 L439.3 65.2 L439.5 67.0 L439.9 73.3 L440.4 82.0 L440.7 88.0 L441.4 95.0 L442.1 101.9 L443.1 108.0 L444.0 114.3 L445.0 123.1 L446.5 131.9 L447.8 135.5 L449.4 138.4 L451.2 141.0 L453.1 142.8 L456.0 143.8 L470.0 144.0 L490.0 144.1 L501.8 144.2" fill="none" stroke="#111" stroke-width="1.35" stroke-linejoin="round"/>
<rect x="374.6" y="21.7" width="127.8" height="123.4" fill="none" stroke="#1a1a1a" stroke-width="1.2"/>
<line x1="371.20" y1="145.10" x2="374.60" y2="145.10" stroke="#222" stroke-width="0.9" />
<text transform="translate(368.30,147.70) scale(0.93,1)" font-size="8.6" text-anchor="end" font-weight="normal" fill="#111">0</text>
<line x1="372.80" y1="139.22" x2="374.60" y2="139.22" stroke="#333" stroke-width="0.7" />
<line x1="372.80" y1="133.33" x2="374.60" y2="133.33" stroke="#333" stroke-width="0.7" />
<line x1="372.80" y1="127.44" x2="374.60" y2="127.44" stroke="#333" stroke-width="0.7" />
<line x1="371.20" y1="121.56" x2="374.60" y2="121.56" stroke="#222" stroke-width="0.9" />
<text transform="translate(368.30,124.16) scale(0.93,1)" font-size="8.6" text-anchor="end" font-weight="normal" fill="#111">20</text>
<line x1="372.80" y1="115.67" x2="374.60" y2="115.67" stroke="#333" stroke-width="0.7" />
<line x1="372.80" y1="109.79" x2="374.60" y2="109.79" stroke="#333" stroke-width="0.7" />
<line x1="372.80" y1="103.91" x2="374.60" y2="103.91" stroke="#333" stroke-width="0.7" />
<line x1="371.20" y1="98.02" x2="374.60" y2="98.02" stroke="#222" stroke-width="0.9" />
<text transform="translate(368.30,100.62) scale(0.93,1)" font-size="8.6" text-anchor="end" font-weight="normal" fill="#111">40</text>
<line x1="372.80" y1="92.13" x2="374.60" y2="92.13" stroke="#333" stroke-width="0.7" />
<line x1="372.80" y1="86.25" x2="374.60" y2="86.25" stroke="#333" stroke-width="0.7" />
<line x1="372.80" y1="80.36" x2="374.60" y2="80.36" stroke="#333" stroke-width="0.7" />
<line x1="371.20" y1="74.48" x2="374.60" y2="74.48" stroke="#222" stroke-width="0.9" />
<text transform="translate(368.30,77.08) scale(0.93,1)" font-size="8.6" text-anchor="end" font-weight="normal" fill="#111">60</text>
<line x1="372.80" y1="68.59" x2="374.60" y2="68.59" stroke="#333" stroke-width="0.7" />
<line x1="372.80" y1="62.71" x2="374.60" y2="62.71" stroke="#333" stroke-width="0.7" />
<line x1="372.80" y1="56.83" x2="374.60" y2="56.83" stroke="#333" stroke-width="0.7" />
<line x1="371.20" y1="50.94" x2="374.60" y2="50.94" stroke="#222" stroke-width="0.9" />
<text transform="translate(368.30,53.54) scale(0.93,1)" font-size="8.6" text-anchor="end" font-weight="normal" fill="#111">80</text>
<line x1="372.80" y1="45.06" x2="374.60" y2="45.06" stroke="#333" stroke-width="0.7" />
<line x1="372.80" y1="39.17" x2="374.60" y2="39.17" stroke="#333" stroke-width="0.7" />
<line x1="372.80" y1="33.29" x2="374.60" y2="33.29" stroke="#333" stroke-width="0.7" />
<line x1="371.20" y1="27.40" x2="374.60" y2="27.40" stroke="#222" stroke-width="0.9" />
<text transform="translate(368.30,30.00) scale(0.93,1)" font-size="8.6" text-anchor="end" font-weight="normal" fill="#111">100</text>
<line x1="385.00" y1="145.10" x2="385.00" y2="146.90" stroke="#333" stroke-width="0.7" />
<line x1="387.40" y1="145.10" x2="387.40" y2="146.90" stroke="#333" stroke-width="0.7" />
<line x1="389.60" y1="145.10" x2="389.60" y2="146.90" stroke="#333" stroke-width="0.7" />
<line x1="392.30" y1="145.10" x2="392.30" y2="146.90" stroke="#333" stroke-width="0.7" />
<line x1="396.20" y1="145.10" x2="396.20" y2="146.90" stroke="#333" stroke-width="0.7" />
<line x1="400.00" y1="145.10" x2="400.00" y2="146.90" stroke="#333" stroke-width="0.7" />
<line x1="403.40" y1="145.10" x2="403.40" y2="146.90" stroke="#333" stroke-width="0.7" />
<line x1="406.60" y1="145.10" x2="406.60" y2="146.90" stroke="#333" stroke-width="0.7" />
<line x1="410.60" y1="145.10" x2="410.60" y2="148.10" stroke="#222" stroke-width="0.9" />
<line x1="420.53" y1="145.10" x2="420.53" y2="146.90" stroke="#333" stroke-width="0.7" />
<line x1="426.35" y1="145.10" x2="426.35" y2="146.90" stroke="#333" stroke-width="0.7" />
<line x1="430.47" y1="145.10" x2="430.47" y2="146.90" stroke="#333" stroke-width="0.7" />
<line x1="433.67" y1="145.10" x2="433.67" y2="146.90" stroke="#333" stroke-width="0.7" />
<line x1="436.28" y1="145.10" x2="436.28" y2="146.90" stroke="#333" stroke-width="0.7" />
<line x1="438.49" y1="145.10" x2="438.49" y2="146.90" stroke="#333" stroke-width="0.7" />
<line x1="440.40" y1="145.10" x2="440.40" y2="146.90" stroke="#333" stroke-width="0.7" />
<line x1="442.09" y1="145.10" x2="442.09" y2="146.90" stroke="#333" stroke-width="0.7" />
<line x1="443.60" y1="145.10" x2="443.60" y2="148.10" stroke="#222" stroke-width="0.9" />
<line x1="453.53" y1="145.10" x2="453.53" y2="146.90" stroke="#333" stroke-width="0.7" />
<line x1="459.35" y1="145.10" x2="459.35" y2="146.90" stroke="#333" stroke-width="0.7" />
<line x1="463.47" y1="145.10" x2="463.47" y2="146.90" stroke="#333" stroke-width="0.7" />
<line x1="466.67" y1="145.10" x2="466.67" y2="146.90" stroke="#333" stroke-width="0.7" />
<line x1="469.28" y1="145.10" x2="469.28" y2="146.90" stroke="#333" stroke-width="0.7" />
<line x1="471.49" y1="145.10" x2="471.49" y2="146.90" stroke="#333" stroke-width="0.7" />
<line x1="473.40" y1="145.10" x2="473.40" y2="146.90" stroke="#333" stroke-width="0.7" />
<line x1="475.09" y1="145.10" x2="475.09" y2="146.90" stroke="#333" stroke-width="0.7" />
<line x1="476.60" y1="145.10" x2="476.60" y2="148.10" stroke="#222" stroke-width="0.9" />
<line x1="486.53" y1="145.10" x2="486.53" y2="146.90" stroke="#333" stroke-width="0.7" />
<line x1="492.35" y1="145.10" x2="492.35" y2="146.90" stroke="#333" stroke-width="0.7" />
<line x1="496.47" y1="145.10" x2="496.47" y2="146.90" stroke="#333" stroke-width="0.7" />
<line x1="499.67" y1="145.10" x2="499.67" y2="146.90" stroke="#333" stroke-width="0.7" />
<line x1="502.28" y1="145.10" x2="502.28" y2="146.90" stroke="#333" stroke-width="0.7" />
<text transform="translate(388.20,160.00) scale(0.9,1)" font-size="8.3" text-anchor="middle" font-weight="normal" fill="#111">0</text>
<text transform="translate(412.40,160.00) scale(0.9,1)" font-size="8.3" text-anchor="middle" font-weight="normal" fill="#111">10<tspan font-size="5.8" dy="-3.2">1</tspan></text>
<text transform="translate(445.40,160.00) scale(0.9,1)" font-size="8.3" text-anchor="middle" font-weight="normal" fill="#111">10<tspan font-size="5.8" dy="-3.2">2</tspan></text>
<text transform="translate(472.00,160.00) scale(0.9,1)" font-size="8.3" text-anchor="middle" font-weight="normal" fill="#111">10<tspan font-size="5.8" dy="-3.2">3</tspan></text>
<text x="426" y="173.5" font-size="10.4" fill="#111" textLength="25.6" lengthAdjust="spacingAndGlyphs">IL-17A</text>
<line x1="423.50" y1="101.80" x2="499.30" y2="101.80" stroke="#222" stroke-width="1.2" />
<line x1="423.50" y1="98.60" x2="423.50" y2="104.80" stroke="#222" stroke-width="1.1" />
<line x1="499.30" y1="98.60" x2="499.30" y2="104.80" stroke="#222" stroke-width="1.1" />
<text transform="translate(461.00,97.60) scale(0.92,1)" font-size="8.3" text-anchor="middle" font-weight="normal" fill="#111">89.1 %</text>
<text transform="translate(8.20,210.80) scale(0.92,1)" font-size="12" text-anchor="start" font-weight="bold" fill="#000">C</text>
<line x1="53.60" y1="247.00" x2="53.60" y2="372.30" stroke="#1a1a1a" stroke-width="1.3" />
<line x1="53.00" y1="371.70" x2="239.50" y2="371.70" stroke="#1a1a1a" stroke-width="1.3" />
<line x1="50.10" y1="371.70" x2="53.60" y2="371.70" stroke="#222" stroke-width="0.9" />
<text transform="translate(47.20,374.30) scale(0.93,1)" font-size="8.6" text-anchor="end" font-weight="normal" fill="#111">0</text>
<line x1="51.80" y1="356.57" x2="53.60" y2="356.57" stroke="#333" stroke-width="0.8" />
<line x1="50.10" y1="341.45" x2="53.60" y2="341.45" stroke="#222" stroke-width="0.9" />
<text transform="translate(47.20,344.05) scale(0.93,1)" font-size="8.6" text-anchor="end" font-weight="normal" fill="#111">200</text>
<line x1="51.80" y1="326.32" x2="53.60" y2="326.32" stroke="#333" stroke-width="0.8" />
<line x1="50.10" y1="311.20" x2="53.60" y2="311.20" stroke="#222" stroke-width="0.9" />
<text transform="translate(47.20,313.80) scale(0.93,1)" font-size="8.6" text-anchor="end" font-weight="normal" fill="#111">400</text>
<line x1="51.80" y1="296.07" x2="53.60" y2="296.07" stroke="#333" stroke-width="0.8" />
<line x1="50.10" y1="280.95" x2="53.60" y2="280.95" stroke="#222" stroke-width="0.9" />
<text transform="translate(47.20,283.55) scale(0.93,1)" font-size="8.6" text-anchor="end" font-weight="normal" fill="#111">600</text>
<line x1="51.80" y1="265.82" x2="53.60" y2="265.82" stroke="#333" stroke-width="0.8" />
<line x1="50.10" y1="250.70" x2="53.60" y2="250.70" stroke="#222" stroke-width="0.9" />
<text transform="translate(47.20,253.30) scale(0.93,1)" font-size="8.6" text-anchor="end" font-weight="normal" fill="#111">800</text>
<line x1="53.60" y1="371.70" x2="53.60" y2="374.90" stroke="#222" stroke-width="0.9" />
<text transform="translate(53.60,385.80) scale(0.93,1)" font-size="8.6" text-anchor="middle" font-weight="normal" fill="#111">0</text>
<line x1="71.94" y1="371.70" x2="71.94" y2="373.50" stroke="#333" stroke-width="0.8" />
<line x1="90.28" y1="371.70" x2="90.28" y2="374.90" stroke="#222" stroke-width="0.9" />
<text transform="translate(90.28,385.80) scale(0.93,1)" font-size="8.6" text-anchor="middle" font-weight="normal" fill="#111">20</text>
<line x1="108.62" y1="371.70" x2="108.62" y2="373.50" stroke="#333" stroke-width="0.8" />
<line x1="126.96" y1="371.70" x2="126.96" y2="374.90" stroke="#222" stroke-width="0.9" />
<text transform="translate(126.96,385.80) scale(0.93,1)" font-size="8.6" text-anchor="middle" font-weight="normal" fill="#111">40</text>
<line x1="145.30" y1="371.70" x2="145.30" y2="373.50" stroke="#333" stroke-width="0.8" />
<line x1="163.64" y1="371.70" x2="163.64" y2="374.90" stroke="#222" stroke-width="0.9" />
<text transform="translate(163.64,385.80) scale(0.93,1)" font-size="8.6" text-anchor="middle" font-weight="normal" fill="#111">60</text>
<line x1="181.98" y1="371.70" x2="181.98" y2="373.50" stroke="#333" stroke-width="0.8" />
<line x1="200.32" y1="371.70" x2="200.32" y2="374.90" stroke="#222" stroke-width="0.9" />
<text transform="translate(200.32,385.80) scale(0.93,1)" font-size="8.6" text-anchor="middle" font-weight="normal" fill="#111">80</text>
<line x1="218.66" y1="371.70" x2="218.66" y2="373.50" stroke="#333" stroke-width="0.8" />
<line x1="237.00" y1="371.70" x2="237.00" y2="374.90" stroke="#222" stroke-width="0.9" />
<text transform="translate(237.00,385.80) scale(0.93,1)" font-size="8.6" text-anchor="middle" font-weight="normal" fill="#111">100</text>
<text x="67.3" y="401.8" font-size="9.8" fill="#111" textLength="155" lengthAdjust="spacingAndGlyphs">% IL-17A<tspan font-size="6.4" dy="-3.6">+</tspan><tspan dy="3.6"> cells trapped in GMA column</tspan></text>
<text transform="translate(15.4,310) rotate(-90)" font-size="9.9" text-anchor="middle" fill="#111" textLength="79" lengthAdjust="spacingAndGlyphs">IL-17A plasma levels</text>
<text transform="translate(27.8,309.2) rotate(-90)" font-size="9.5" text-anchor="middle" fill="#111" textLength="30.5" lengthAdjust="spacingAndGlyphs">(pg/ml)</text>
<text transform="translate(61.70,258.20) scale(0.92,1)" font-size="8.2" text-anchor="start" font-weight="normal" fill="#111">r<tspan font-size="5.6" dy="-3.2">2</tspan><tspan dy="3.2"> = 0.7</tspan></text>
<line x1="115.40" y1="340.00" x2="216.00" y2="280.00" stroke="#111" stroke-width="1.5" />
<path d="M114.90 330.90 L118.80 334.80 L114.90 338.70 L111.00 334.80 Z" fill="#111"/>
<text transform="translate(115.00,330.40) scale(0.9,1)" font-size="8.5" text-anchor="middle" font-weight="normal" fill="#111">w224</text>
<path d="M181.00 300.20 L184.90 304.10 L181.00 308.00 L177.10 304.10 Z" fill="#111"/>
<text transform="translate(172.50,297.30) scale(0.9,1)" font-size="8.5" text-anchor="middle" font-weight="normal" fill="#111">w129</text>
<path d="M196.40 309.80 L200.30 313.70 L196.40 317.60 L192.50 313.70 Z" fill="#111"/>
<text transform="translate(198.10,325.30) scale(0.9,1)" font-size="8.5" text-anchor="middle" font-weight="normal" fill="#111">w326</text>
<path d="M216.20 256.90 L220.10 260.80 L216.20 264.70 L212.30 260.80 Z" fill="#111"/>
<text transform="translate(217.90,254.90) scale(0.9,1)" font-size="8.5" text-anchor="middle" font-weight="normal" fill="#111">w159</text>
<text transform="translate(274.80,210.80) scale(0.92,1)" font-size="12" text-anchor="start" font-weight="bold" fill="#000">D</text>
<line x1="317.50" y1="247.20" x2="317.50" y2="372.20" stroke="#1a1a1a" stroke-width="1.3" />
<line x1="316.90" y1="371.60" x2="505.80" y2="371.60" stroke="#1a1a1a" stroke-width="1.3" />
<line x1="314.00" y1="371.60" x2="317.50" y2="371.60" stroke="#222" stroke-width="0.9" />
<text transform="translate(311.00,374.20) scale(0.93,1)" font-size="8.6" text-anchor="end" font-weight="normal" fill="#111">0</text>
<line x1="315.70" y1="361.45" x2="317.50" y2="361.45" stroke="#333" stroke-width="0.8" />
<line x1="314.00" y1="351.30" x2="317.50" y2="351.30" stroke="#222" stroke-width="0.9" />
<text transform="translate(311.00,353.90) scale(0.93,1)" font-size="8.6" text-anchor="end" font-weight="normal" fill="#111">10</text>
<line x1="315.70" y1="341.15" x2="317.50" y2="341.15" stroke="#333" stroke-width="0.8" />
<line x1="314.00" y1="331.00" x2="317.50" y2="331.00" stroke="#222" stroke-width="0.9" />
<text transform="translate(311.00,333.60) scale(0.93,1)" font-size="8.6" text-anchor="end" font-weight="normal" fill="#111">20</text>
<line x1="315.70" y1="320.85" x2="317.50" y2="320.85" stroke="#333" stroke-width="0.8" />
<line x1="314.00" y1="310.70" x2="317.50" y2="310.70" stroke="#222" stroke-width="0.9" />
<text transform="translate(311.00,313.30) scale(0.93,1)" font-size="8.6" text-anchor="end" font-weight="normal" fill="#111">30</text>
<line x1="315.70" y1="300.55" x2="317.50" y2="300.55" stroke="#333" stroke-width="0.8" />
<line x1="314.00" y1="290.40" x2="317.50" y2="290.40" stroke="#222" stroke-width="0.9" />
<text transform="translate(311.00,293.00) scale(0.93,1)" font-size="8.6" text-anchor="end" font-weight="normal" fill="#111">40</text>
<line x1="315.70" y1="280.25" x2="317.50" y2="280.25" stroke="#333" stroke-width="0.8" />
<line x1="314.00" y1="270.10" x2="317.50" y2="270.10" stroke="#222" stroke-width="0.9" />
<text transform="translate(311.00,272.70) scale(0.93,1)" font-size="8.6" text-anchor="end" font-weight="normal" fill="#111">50</text>
<line x1="315.70" y1="259.95" x2="317.50" y2="259.95" stroke="#333" stroke-width="0.8" />
<line x1="314.00" y1="249.80" x2="317.50" y2="249.80" stroke="#222" stroke-width="0.9" />
<text transform="translate(311.00,252.40) scale(0.93,1)" font-size="8.6" text-anchor="end" font-weight="normal" fill="#111">60</text>
<line x1="317.50" y1="371.60" x2="317.50" y2="374.80" stroke="#222" stroke-width="0.9" />
<text transform="translate(317.50,385.80) scale(0.93,1)" font-size="8.6" text-anchor="middle" font-weight="normal" fill="#111">0</text>
<line x1="333.10" y1="371.60" x2="333.10" y2="373.40" stroke="#333" stroke-width="0.8" />
<line x1="348.71" y1="371.60" x2="348.71" y2="374.80" stroke="#222" stroke-width="0.9" />
<text transform="translate(348.71,385.80) scale(0.93,1)" font-size="8.6" text-anchor="middle" font-weight="normal" fill="#111">200</text>
<line x1="364.31" y1="371.60" x2="364.31" y2="373.40" stroke="#333" stroke-width="0.8" />
<line x1="379.92" y1="371.60" x2="379.92" y2="374.80" stroke="#222" stroke-width="0.9" />
<text transform="translate(379.92,385.80) scale(0.93,1)" font-size="8.6" text-anchor="middle" font-weight="normal" fill="#111">400</text>
<line x1="395.52" y1="371.60" x2="395.52" y2="373.40" stroke="#333" stroke-width="0.8" />
<line x1="411.12" y1="371.60" x2="411.12" y2="374.80" stroke="#222" stroke-width="0.9" />
<text transform="translate(411.12,385.80) scale(0.93,1)" font-size="8.6" text-anchor="middle" font-weight="normal" fill="#111">600</text>
<line x1="426.73" y1="371.60" x2="426.73" y2="373.40" stroke="#333" stroke-width="0.8" />
<line x1="442.33" y1="371.60" x2="442.33" y2="374.80" stroke="#222" stroke-width="0.9" />
<text transform="translate(442.33,385.80) scale(0.93,1)" font-size="8.6" text-anchor="middle" font-weight="normal" fill="#111">800</text>
<line x1="457.94" y1="371.60" x2="457.94" y2="373.40" stroke="#333" stroke-width="0.8" />
<line x1="473.54" y1="371.60" x2="473.54" y2="374.80" stroke="#222" stroke-width="0.9" />
<text transform="translate(473.54,385.80) scale(0.93,1)" font-size="8.6" text-anchor="middle" font-weight="normal" fill="#111">1000</text>
<line x1="489.14" y1="371.60" x2="489.14" y2="373.40" stroke="#333" stroke-width="0.8" />
<line x1="504.75" y1="371.60" x2="504.75" y2="374.80" stroke="#222" stroke-width="0.9" />
<text transform="translate(504.75,385.80) scale(0.93,1)" font-size="8.6" text-anchor="middle" font-weight="normal" fill="#111">1200</text>
<text x="352.1" y="402.3" font-size="9.8" fill="#111" textLength="121" lengthAdjust="spacingAndGlyphs">IL-17A levels in plasma (pg/ml)</text>
<text transform="translate(283.8,308.4) rotate(-90)" font-size="9.8" text-anchor="middle" fill="#111" textLength="76.4" lengthAdjust="spacingAndGlyphs">IL-17A levels in CSF</text>
<text transform="translate(296.2,308) rotate(-90)" font-size="9.8" text-anchor="middle" fill="#111" textLength="28.5" lengthAdjust="spacingAndGlyphs">(pg/ml)</text>
<text transform="translate(326.00,258.20) scale(0.92,1)" font-size="8.2" text-anchor="start" font-weight="normal" fill="#111">r<tspan font-size="5.6" dy="-3.2">2</tspan><tspan dy="3.2"> = 0.8</tspan></text>
<line x1="329.40" y1="337.70" x2="463.40" y2="279.00" stroke="#111" stroke-width="1.5" />
<circle cx="328.9" cy="347.1" r="2.7" fill="#111"/>
<text transform="translate(328.90,359.40) scale(0.9,1)" font-size="8.5" text-anchor="middle" font-weight="normal" fill="#111">(v)</text>
<circle cx="350.3" cy="314.3" r="2.7" fill="#111"/>
<text transform="translate(350.30,306.80) scale(0.9,1)" font-size="8.5" text-anchor="middle" font-weight="normal" fill="#111">(iv)</text>
<circle cx="373.1" cy="317.2" r="2.7" fill="#111"/>
<text transform="translate(373.40,310.40) scale(0.9,1)" font-size="8.5" text-anchor="middle" font-weight="normal" fill="#111">(iii)</text>
<circle cx="440.4" cy="305.3" r="2.7" fill="#111"/>
<text transform="translate(440.40,318.00) scale(0.9,1)" font-size="8.5" text-anchor="middle" font-weight="normal" fill="#111">(ii)</text>
<circle cx="465.4" cy="268.1" r="2.7" fill="#111"/>
<text transform="translate(465.40,261.00) scale(0.9,1)" font-size="8.5" text-anchor="middle" font-weight="normal" fill="#111">(i)</text>
<g stroke="#222" stroke-width="0.9" fill="none">
<rect x="387.6" y="200.6" width="113.7" height="19.5"/>
<rect x="351.5" y="220.1" width="149.8" height="20.2"/>
<line x1="387.6" y1="210.3" x2="501.3" y2="210.3"/>
<line x1="351.5" y1="230.3" x2="501.3" y2="230.3"/>
<line x1="387.6" y1="200.6" x2="387.6" y2="210.3"/>
<line x1="387.6" y1="220.1" x2="387.6" y2="240.3"/>
<line x1="410.4" y1="200.6" x2="410.4" y2="210.3"/>
<line x1="410.4" y1="220.1" x2="410.4" y2="240.3"/>
<line x1="433.5" y1="200.6" x2="433.5" y2="210.3"/>
<line x1="433.5" y1="220.1" x2="433.5" y2="240.3"/>
<line x1="456.3" y1="200.6" x2="456.3" y2="210.3"/>
<line x1="456.3" y1="220.1" x2="456.3" y2="240.3"/>
<line x1="478.8" y1="200.6" x2="478.8" y2="210.3"/>
<line x1="478.8" y1="220.1" x2="478.8" y2="240.3"/>
</g>
<text transform="translate(399.00,208.00) scale(0.95,1)" font-size="7.8" text-anchor="middle" font-weight="normal" fill="#111">(i)</text>
<text transform="translate(421.95,208.00) scale(0.95,1)" font-size="7.8" text-anchor="middle" font-weight="normal" fill="#111">(ii)</text>
<text transform="translate(444.90,208.00) scale(0.95,1)" font-size="7.8" text-anchor="middle" font-weight="normal" fill="#111">(iii)</text>
<text transform="translate(467.55,208.00) scale(0.95,1)" font-size="7.8" text-anchor="middle" font-weight="normal" fill="#111">(iv)</text>
<text transform="translate(490.05,208.00) scale(0.95,1)" font-size="7.8" text-anchor="middle" font-weight="normal" fill="#111">(v)</text>
<text transform="translate(444.45,218.30) scale(0.95,1)" font-size="8.2" text-anchor="middle" font-weight="normal" fill="#111">Week of sample collection</text>
<text transform="translate(353.70,228.00) scale(0.93,1)" font-size="8.5" text-anchor="start" font-weight="normal" fill="#111">CSF</text>
<text transform="translate(399.00,228.00) scale(0.93,1)" font-size="8.5" text-anchor="middle" font-weight="normal" fill="#111">109</text>
<text transform="translate(421.95,228.00) scale(0.93,1)" font-size="8.5" text-anchor="middle" font-weight="normal" fill="#111">243</text>
<text transform="translate(444.90,228.00) scale(0.93,1)" font-size="8.5" text-anchor="middle" font-weight="normal" fill="#111">283</text>
<text transform="translate(467.55,228.00) scale(0.93,1)" font-size="8.5" text-anchor="middle" font-weight="normal" fill="#111">340</text>
<text transform="translate(490.05,228.00) scale(0.93,1)" font-size="8.5" text-anchor="middle" font-weight="normal" fill="#111">368</text>
<text transform="translate(353.70,238.20) scale(0.93,1)" font-size="8.5" text-anchor="start" font-weight="normal" fill="#111">Plasma</text>
<text transform="translate(399.00,238.20) scale(0.93,1)" font-size="8.5" text-anchor="middle" font-weight="normal" fill="#111">115</text>
<text transform="translate(421.95,238.20) scale(0.93,1)" font-size="8.5" text-anchor="middle" font-weight="normal" fill="#111">242</text>
<text transform="translate(444.90,238.20) scale(0.93,1)" font-size="8.5" text-anchor="middle" font-weight="normal" fill="#111">282</text>
<text transform="translate(467.55,238.20) scale(0.93,1)" font-size="8.5" text-anchor="middle" font-weight="normal" fill="#111">340</text>
<text transform="translate(490.05,238.20) scale(0.93,1)" font-size="8.5" text-anchor="middle" font-weight="normal" fill="#111">416</text>
<rect x="0.5" y="0.5" width="519" height="409" fill="none" stroke="#151515" stroke-width="1"/>
</svg>
</body></html>
